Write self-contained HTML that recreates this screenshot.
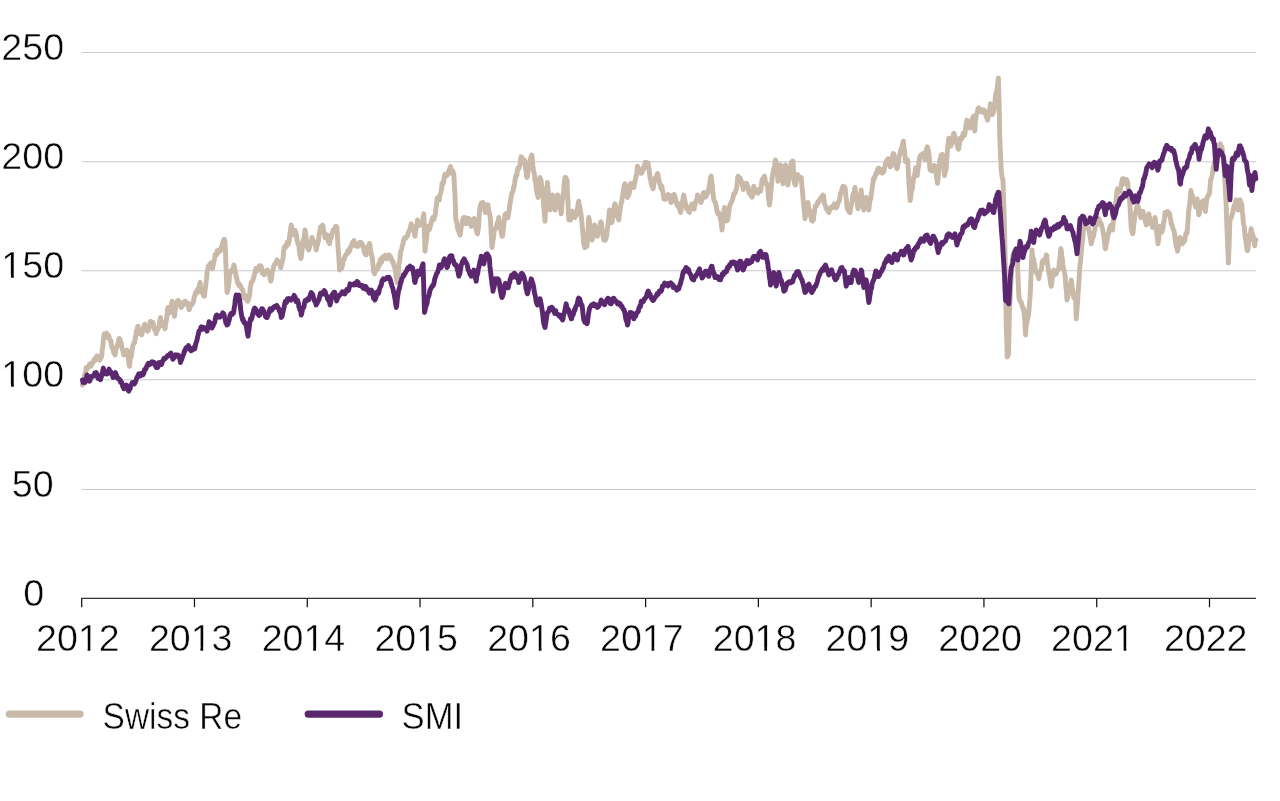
<!DOCTYPE html>
<html><head><meta charset="utf-8"><title>Swiss Re vs SMI</title>
<style>
html,body{margin:0;padding:0;background:#fff;}
body{width:1280px;height:801px;overflow:hidden;}
svg{display:block;will-change:transform;}
text{font-family:"Liberation Sans",sans-serif;font-size:37.6px;fill:#050505;stroke:#fff;stroke-width:0.5px;paint-order:fill stroke;}
rect.m{fill:#fff;}
</style></head>
<body>
<svg width="1280" height="801" viewBox="0 0 1280 801">
<rect width="1280" height="801" fill="#ffffff"/>
<g id="grid">
<line x1="81.7" y1="489.50" x2="1256.0" y2="489.50" stroke="#c9c9c9" stroke-width="1.1"/>
<line x1="81.7" y1="379.70" x2="1256.0" y2="379.70" stroke="#c9c9c9" stroke-width="1.1"/>
<line x1="81.7" y1="270.80" x2="1256.0" y2="270.80" stroke="#c9c9c9" stroke-width="1.1"/>
<line x1="81.7" y1="161.70" x2="1256.0" y2="161.70" stroke="#c9c9c9" stroke-width="1.1"/>
<line x1="81.7" y1="52.50" x2="1256.0" y2="52.50" stroke="#c9c9c9" stroke-width="1.1"/>
</g>
<g id="ylabels">
<text x="33.70" y="605.7" text-anchor="middle">0</text>
<text x="32.70" y="496.8" text-anchor="middle">50</text>
<text x="32.70" y="387.0" text-anchor="middle">100</text><rect class="m" x="2.60" y="383.74" width="8.44" height="4.01"/><rect class="m" x="13.86" y="383.74" width="8.15" height="4.01"/>
<text x="32.70" y="278.1" text-anchor="middle">150</text><rect class="m" x="2.60" y="274.84" width="8.44" height="4.01"/><rect class="m" x="13.86" y="274.84" width="8.15" height="4.01"/>
<text x="32.70" y="169.0" text-anchor="middle">200</text>
<text x="32.70" y="59.8" text-anchor="middle">250</text>
</g>
<g id="series" fill="none" stroke-linejoin="round" stroke-linecap="round" stroke-width="4.9">
<path stroke="#c8b9a9" d="M82.5 385.0 L83.0 384.1 L83.5 383.4 L84.0 380.5 L84.5 376.2 L84.9 373.7 L85.4 373.0 L85.8 370.6 L86.2 367.5 L86.7 367.7 L87.2 367.8 L87.7 368.6 L88.1 367.0 L88.6 367.0 L89.1 366.7 L89.5 364.2 L90.0 365.0 L90.5 363.9 L90.9 366.2 L91.4 364.9 L91.9 363.1 L92.3 363.5 L92.8 362.3 L93.3 362.2 L93.8 360.0 L94.2 359.4 L94.7 360.2 L95.2 360.4 L95.6 359.7 L96.1 357.0 L96.6 356.8 L97.0 356.0 L97.5 356.2 L98.0 356.7 L98.4 358.6 L98.9 358.6 L99.4 359.1 L99.8 360.3 L100.3 358.7 L100.8 358.2 L101.2 357.5 L101.8 355.5 L102.2 350.2 L102.8 346.1 L103.2 341.9 L103.8 336.2 L104.2 333.8 L104.7 335.4 L105.2 334.7 L105.6 335.9 L106.1 333.8 L106.6 333.2 L107.0 335.2 L107.5 337.5 L108.0 336.4 L108.4 335.3 L108.9 336.2 L109.4 338.4 L109.8 339.6 L110.3 341.1 L110.8 340.6 L111.2 342.5 L111.7 346.6 L112.2 348.1 L112.7 348.1 L113.1 349.2 L113.6 352.7 L114.1 352.2 L114.5 354.3 L115.0 355.0 L115.5 352.3 L115.9 349.4 L116.4 347.0 L116.9 346.9 L117.3 345.1 L117.8 344.7 L118.3 342.0 L118.8 338.8 L119.2 341.2 L119.8 338.6 L120.2 340.4 L120.8 342.6 L121.2 342.5 L121.8 346.9 L122.2 349.7 L122.8 349.5 L123.2 352.9 L123.8 355.0 L124.3 353.1 L124.8 351.7 L125.4 352.6 L125.9 351.6 L126.5 350.5 L127.0 350.0 L127.5 351.1 L128.0 357.1 L128.5 359.4 L129.0 364.1 L129.5 366.2 L130.0 361.5 L130.5 357.6 L131.0 357.4 L131.5 355.3 L132.0 351.2 L132.5 347.5 L133.0 344.9 L133.5 344.1 L134.0 342.5 L134.5 342.9 L135.0 340.0 L135.5 337.3 L136.0 333.8 L136.5 330.5 L137.0 329.4 L137.5 327.5 L138.0 326.2 L138.5 329.5 L139.1 332.7 L139.6 331.8 L140.2 334.0 L140.7 332.5 L141.2 333.8 L141.8 334.9 L142.2 332.8 L142.8 330.3 L143.2 328.7 L143.8 326.8 L144.2 325.0 L144.8 324.3 L145.3 326.5 L145.9 328.5 L146.4 328.7 L147.0 329.7 L147.5 331.2 L148.0 330.9 L148.5 329.5 L149.0 328.6 L149.5 326.2 L150.0 322.5 L150.5 321.3 L150.9 322.5 L151.4 323.7 L151.9 323.5 L152.3 322.2 L152.8 322.2 L153.3 324.5 L153.8 326.2 L154.2 327.7 L154.8 330.1 L155.2 330.3 L155.8 330.9 L156.2 333.8 L156.8 331.1 L157.3 330.0 L157.8 329.3 L158.4 328.0 L158.9 327.4 L159.4 323.9 L160.0 319.4 L160.5 317.5 L161.0 322.3 L161.5 323.4 L162.0 322.1 L162.5 323.1 L163.0 325.9 L163.5 324.8 L164.0 326.6 L164.5 326.2 L165.0 328.8 L165.5 325.4 L166.0 321.4 L166.5 320.0 L167.0 314.8 L167.5 309.1 L168.0 307.5 L168.5 307.2 L169.0 311.9 L169.5 313.0 L170.0 312.5 L170.5 309.6 L171.0 307.0 L171.5 304.4 L172.0 301.2 L172.5 306.1 L173.0 305.4 L173.5 307.6 L174.0 310.3 L174.5 316.2 L175.0 311.3 L175.5 309.0 L176.0 305.4 L176.5 302.6 L177.0 301.8 L177.5 300.7 L178.0 301.2 L178.5 300.7 L179.1 301.5 L179.6 303.7 L180.2 305.5 L180.7 305.3 L181.2 307.5 L181.8 304.5 L182.3 305.9 L182.8 304.6 L183.4 302.9 L183.9 301.9 L184.4 301.7 L185.0 303.0 L185.5 301.2 L186.0 302.1 L186.5 304.4 L187.0 304.4 L187.5 303.0 L188.0 305.8 L188.5 306.6 L189.0 309.7 L189.5 309.5 L190.0 306.2 L190.5 305.3 L190.9 304.1 L191.4 305.3 L191.9 304.7 L192.3 303.8 L192.8 303.3 L193.3 301.3 L193.8 300.0 L194.2 296.8 L194.7 296.6 L195.2 294.2 L195.6 292.5 L196.1 292.6 L196.6 293.0 L197.0 290.3 L197.5 292.5 L198.0 289.0 L198.5 287.9 L199.0 286.9 L199.5 284.7 L200.0 282.5 L200.5 286.8 L201.0 289.7 L201.5 291.9 L202.0 290.5 L202.5 290.8 L203.0 294.1 L203.5 295.9 L204.0 295.8 L204.5 296.2 L205.0 290.9 L205.5 287.1 L206.0 282.8 L206.5 279.5 L207.0 273.3 L207.5 270.0 L208.0 267.7 L208.5 265.7 L209.0 266.9 L209.5 265.5 L210.0 263.8 L210.5 263.4 L211.0 262.8 L211.5 265.4 L212.0 267.6 L212.5 268.8 L213.0 266.1 L213.4 264.8 L213.9 261.7 L214.4 259.4 L214.8 257.1 L215.3 254.3 L215.8 253.9 L216.2 253.8 L216.7 254.8 L217.2 250.7 L217.7 252.5 L218.1 252.6 L218.6 250.8 L219.1 249.7 L219.5 250.4 L220.0 251.2 L220.5 250.6 L221.0 248.7 L221.5 246.7 L222.0 246.0 L222.5 243.8 L223.0 241.8 L223.5 240.2 L224.0 239.4 L224.5 239.4 L225.0 242.5 L225.5 253.1 L226.0 266.6 L226.5 279.2 L227.0 292.5 L227.5 291.2 L228.0 289.7 L228.5 286.0 L229.0 281.7 L229.5 276.1 L230.0 272.5 L230.5 273.0 L230.9 271.0 L231.4 270.6 L231.9 270.2 L232.3 269.3 L232.8 269.6 L233.3 267.9 L233.8 265.0 L234.2 265.7 L234.8 269.7 L235.2 271.6 L235.8 273.6 L236.2 277.5 L236.7 277.2 L237.2 281.0 L237.7 283.1 L238.1 283.2 L238.6 283.2 L239.1 285.9 L239.5 285.0 L240.0 285.0 L240.5 285.9 L240.9 287.0 L241.4 287.9 L241.9 289.3 L242.3 289.6 L242.8 290.3 L243.3 293.1 L243.8 295.0 L244.3 294.9 L244.8 298.3 L245.3 295.7 L245.9 296.5 L246.4 298.2 L246.9 300.4 L247.5 301.2 L248.0 301.2 L248.5 299.7 L249.1 296.9 L249.6 295.2 L250.2 288.1 L250.7 286.3 L251.2 282.5 L251.8 282.2 L252.2 281.6 L252.8 281.0 L253.2 278.6 L253.8 277.5 L254.2 275.2 L254.8 273.8 L255.2 271.8 L255.8 268.6 L256.2 270.0 L256.7 271.3 L257.2 268.1 L257.7 269.7 L258.1 267.5 L258.6 267.3 L259.1 266.5 L259.5 265.7 L260.0 266.2 L260.5 267.0 L260.9 265.9 L261.4 267.2 L261.9 269.0 L262.3 273.1 L262.8 273.7 L263.3 273.1 L263.8 273.8 L264.2 274.7 L264.7 273.1 L265.2 271.8 L265.6 272.6 L266.1 272.4 L266.6 272.6 L267.0 271.5 L267.5 270.0 L268.0 271.2 L268.6 272.6 L269.1 273.8 L269.7 276.1 L270.2 278.7 L270.8 281.2 L271.2 279.7 L271.8 275.9 L272.2 271.8 L272.8 270.7 L273.2 268.4 L273.8 266.2 L274.3 264.7 L274.8 264.6 L275.4 263.9 L275.9 262.8 L276.5 262.1 L277.0 260.0 L277.5 260.7 L278.1 263.2 L278.6 262.7 L279.1 263.5 L279.7 262.3 L280.2 264.0 L280.7 267.6 L281.2 266.2 L281.7 263.0 L282.2 262.4 L282.7 260.1 L283.1 257.5 L283.6 251.3 L284.1 248.2 L284.5 246.8 L285.0 246.2 L285.5 247.6 L285.9 247.0 L286.4 246.2 L286.9 243.5 L287.3 242.1 L287.8 244.2 L288.3 244.3 L288.8 242.5 L289.2 240.8 L289.8 234.3 L290.2 232.6 L290.8 228.3 L291.2 225.0 L291.8 227.5 L292.2 229.3 L292.8 232.7 L293.2 234.1 L293.8 235.0 L294.2 234.0 L294.7 231.7 L295.2 230.6 L295.6 232.1 L296.1 233.5 L296.6 235.7 L297.0 240.1 L297.5 241.2 L298.0 244.1 L298.4 244.0 L298.9 245.7 L299.4 251.2 L299.8 254.1 L300.3 256.0 L300.8 258.5 L301.2 257.5 L301.7 253.4 L302.2 248.5 L302.7 242.4 L303.1 240.8 L303.6 239.6 L304.1 236.6 L304.5 234.4 L305.0 230.0 L305.5 232.6 L305.9 235.6 L306.4 240.0 L306.9 244.3 L307.3 246.9 L307.8 248.6 L308.3 249.1 L308.8 250.0 L309.3 248.0 L309.8 245.8 L310.4 242.8 L310.9 242.5 L311.5 240.5 L312.0 237.5 L312.5 239.0 L313.1 241.0 L313.6 241.3 L314.1 241.5 L314.7 243.9 L315.2 244.8 L315.7 246.2 L316.2 250.0 L316.7 246.7 L317.2 245.8 L317.7 242.9 L318.1 242.3 L318.6 240.1 L319.1 234.3 L319.5 233.3 L320.0 230.0 L320.5 227.0 L321.0 227.4 L321.5 227.8 L322.0 226.0 L322.5 225.2 L323.0 226.2 L323.5 229.5 L324.1 232.4 L324.6 235.3 L325.2 238.1 L325.7 235.2 L326.2 235.0 L326.8 237.3 L327.3 235.0 L327.9 238.2 L328.4 241.6 L329.0 242.4 L329.5 243.8 L330.0 240.7 L330.6 239.2 L331.1 237.6 L331.6 236.1 L332.2 232.9 L332.7 232.1 L333.2 230.0 L333.8 230.0 L334.3 230.8 L334.8 228.7 L335.4 226.6 L335.9 227.0 L336.5 226.5 L337.0 227.5 L337.5 237.8 L338.0 246.8 L338.5 253.0 L339.0 260.1 L339.5 270.0 L340.0 267.6 L340.6 268.7 L341.1 267.9 L341.6 268.1 L342.2 266.0 L342.7 265.2 L343.2 259.8 L343.8 258.8 L344.2 259.3 L344.7 257.5 L345.2 255.8 L345.6 255.4 L346.1 255.1 L346.6 253.5 L347.0 254.2 L347.5 251.2 L348.0 253.0 L348.5 250.7 L349.0 249.3 L349.5 251.4 L350.0 249.7 L350.5 247.0 L351.0 247.1 L351.5 245.5 L352.0 243.7 L352.5 242.5 L353.0 242.1 L353.5 241.3 L354.0 240.5 L354.5 243.9 L355.0 243.6 L355.5 245.9 L356.0 244.5 L356.5 246.1 L357.0 244.9 L357.5 245.0 L358.0 246.4 L358.4 245.9 L358.9 243.1 L359.4 242.5 L359.8 242.6 L360.3 243.9 L360.8 242.6 L361.2 242.5 L361.8 244.7 L362.2 244.1 L362.8 246.1 L363.2 246.8 L363.8 249.6 L364.2 251.5 L364.8 253.4 L365.2 251.6 L365.8 253.5 L366.2 255.0 L366.7 252.3 L367.2 250.2 L367.7 247.0 L368.1 246.0 L368.6 245.9 L369.1 245.6 L369.5 243.5 L370.0 245.0 L370.5 250.0 L371.0 252.0 L371.5 255.4 L372.0 256.4 L372.5 259.8 L373.0 264.5 L373.5 270.1 L374.0 273.0 L374.5 273.8 L375.0 271.4 L375.5 271.5 L376.0 269.6 L376.5 269.5 L377.0 268.8 L377.5 269.2 L378.0 268.0 L378.5 264.9 L379.0 263.5 L379.5 265.4 L380.0 262.5 L380.5 259.2 L380.9 262.2 L381.4 262.4 L381.9 261.1 L382.3 259.7 L382.8 256.9 L383.3 257.6 L383.8 257.5 L384.2 256.5 L384.8 255.9 L385.2 255.2 L385.8 256.9 L386.2 256.6 L386.8 258.9 L387.2 257.6 L387.8 256.6 L388.2 255.8 L388.8 255.0 L389.2 254.9 L389.7 256.5 L390.2 258.5 L390.6 256.7 L391.1 258.8 L391.6 259.0 L392.0 261.5 L392.5 261.2 L393.0 261.3 L393.5 263.9 L394.0 266.3 L394.5 267.0 L395.0 268.4 L395.5 270.0 L396.0 276.1 L396.5 278.9 L397.0 282.5 L397.5 278.7 L398.0 275.2 L398.5 270.4 L399.0 263.7 L399.5 261.9 L400.0 257.5 L400.5 252.2 L401.0 251.1 L401.5 249.3 L402.0 247.3 L402.5 245.0 L403.0 244.2 L403.5 241.0 L404.0 239.3 L404.5 238.2 L405.0 237.5 L405.5 238.6 L405.9 237.3 L406.4 236.7 L406.9 236.5 L407.3 236.5 L407.8 235.4 L408.3 232.9 L408.8 231.2 L409.2 230.7 L409.8 229.6 L410.2 229.5 L410.8 225.5 L411.2 223.8 L411.7 227.3 L412.2 226.4 L412.7 226.8 L413.1 226.3 L413.6 230.4 L414.1 232.6 L414.5 233.8 L415.0 236.2 L415.5 231.8 L416.0 229.0 L416.5 226.6 L417.0 223.7 L417.5 220.0 L418.0 221.6 L418.4 223.3 L418.9 225.5 L419.4 223.0 L419.8 223.9 L420.3 224.4 L420.8 225.0 L421.2 225.0 L421.8 222.7 L422.2 221.4 L422.8 219.6 L423.2 217.6 L423.8 213.8 L424.4 232.1 L425.0 251.2 L425.5 246.1 L426.0 243.0 L426.5 239.3 L427.0 234.1 L427.5 228.8 L428.0 227.4 L428.4 225.9 L428.9 228.9 L429.4 229.7 L429.8 227.9 L430.3 226.5 L430.8 224.3 L431.2 222.5 L431.7 220.8 L432.2 219.6 L432.7 217.5 L433.1 217.6 L433.6 217.5 L434.1 219.5 L434.5 216.3 L435.0 216.2 L435.5 213.2 L435.9 208.3 L436.4 205.4 L436.9 200.3 L437.3 197.9 L437.8 199.8 L438.3 199.5 L438.8 200.0 L439.2 200.1 L439.7 195.8 L440.2 194.6 L440.6 193.0 L441.1 191.9 L441.6 188.4 L442.0 183.5 L442.5 185.0 L443.0 184.2 L443.5 182.1 L444.0 178.6 L444.5 176.2 L445.0 174.3 L445.5 175.8 L446.0 176.1 L446.5 175.8 L447.0 175.1 L447.5 175.0 L448.0 173.5 L448.5 171.1 L449.0 170.8 L449.5 169.4 L450.0 167.5 L450.5 166.7 L450.9 169.2 L451.4 171.8 L451.9 173.4 L452.3 171.0 L452.8 171.0 L453.3 173.1 L453.8 173.8 L454.4 185.7 L455.0 195.0 L455.4 207.7 L455.8 220.0 L456.3 220.1 L456.9 223.4 L457.4 227.0 L458.0 230.0 L458.5 229.3 L459.0 232.6 L459.5 233.1 L460.0 235.2 L460.5 233.8 L461.0 228.1 L461.6 225.1 L462.1 223.4 L462.7 220.0 L463.2 218.5 L463.8 217.5 L464.2 217.5 L464.8 218.2 L465.2 217.7 L465.8 220.2 L466.2 223.8 L466.8 223.6 L467.2 221.8 L467.8 219.7 L468.2 218.3 L468.8 218.8 L469.2 218.8 L469.8 222.4 L470.2 221.7 L470.8 222.9 L471.2 226.2 L471.8 226.0 L472.2 222.2 L472.8 220.3 L473.2 221.3 L473.8 220.0 L474.2 218.4 L474.7 220.8 L475.2 226.6 L475.6 226.7 L476.1 230.1 L476.6 228.7 L477.0 233.2 L477.5 233.8 L478.0 230.5 L478.5 227.4 L479.0 218.4 L479.5 211.5 L480.0 207.5 L480.5 204.9 L480.9 204.7 L481.4 203.0 L481.9 205.0 L482.3 204.0 L482.8 202.4 L483.3 203.2 L483.8 205.0 L484.2 206.6 L484.6 208.8 L485.1 211.5 L485.5 212.5 L486.0 209.6 L486.5 209.4 L487.0 207.8 L487.5 204.6 L488.0 205.0 L488.5 208.6 L489.0 211.8 L489.5 213.5 L490.0 216.1 L490.5 220.0 L491.0 230.6 L491.5 239.1 L492.0 247.5 L492.5 244.1 L493.0 240.5 L493.5 238.0 L494.0 232.3 L494.5 229.8 L495.0 228.8 L495.5 229.0 L495.9 227.9 L496.4 228.0 L496.9 224.6 L497.3 222.6 L497.8 224.6 L498.3 220.7 L498.8 217.5 L499.2 221.7 L499.7 223.5 L500.2 225.4 L500.6 226.5 L501.1 232.0 L501.6 233.9 L502.0 236.3 L502.5 236.2 L503.0 232.3 L503.5 227.1 L504.0 222.6 L504.5 220.0 L505.0 215.0 L505.5 214.1 L506.0 213.5 L506.5 214.7 L507.0 217.8 L507.5 216.9 L508.0 217.5 L508.5 213.5 L509.1 210.9 L509.6 205.7 L510.2 202.5 L510.7 200.0 L511.2 196.2 L511.7 193.8 L512.2 192.6 L512.7 191.2 L513.1 191.0 L513.6 187.0 L514.1 186.7 L514.5 184.1 L515.0 180.0 L515.5 178.3 L515.9 175.6 L516.4 174.5 L516.9 175.4 L517.3 171.0 L517.8 168.3 L518.3 168.8 L518.8 167.5 L519.2 167.9 L519.7 165.0 L520.2 164.0 L520.6 159.0 L521.1 156.8 L521.6 157.1 L522.0 158.2 L522.5 160.0 L523.0 161.3 L523.5 161.2 L524.0 161.9 L524.5 160.2 L525.0 163.8 L525.5 168.8 L526.0 170.5 L526.5 176.5 L527.0 177.5 L527.5 176.1 L528.0 172.5 L528.5 167.4 L529.0 165.8 L529.5 161.6 L530.0 161.2 L530.4 158.7 L530.9 157.8 L531.3 155.9 L531.8 155.0 L532.4 160.1 L533.0 167.5 L533.5 170.6 L534.0 172.8 L534.5 174.7 L535.0 180.0 L535.5 182.4 L536.0 185.2 L536.5 189.9 L537.0 193.4 L537.5 194.2 L538.0 197.5 L538.5 192.8 L539.0 187.2 L539.5 183.4 L540.0 177.5 L540.5 179.5 L541.0 180.1 L541.5 185.0 L542.0 186.9 L542.5 190.0 L543.0 196.2 L543.5 203.0 L544.0 208.4 L544.5 215.4 L545.0 221.2 L545.5 210.3 L546.0 203.8 L546.5 194.7 L547.0 189.2 L547.5 182.5 L548.0 189.5 L548.5 193.1 L549.0 197.3 L549.5 203.0 L550.0 210.0 L550.5 204.8 L551.0 205.0 L551.5 202.7 L552.0 199.6 L552.5 195.0 L553.0 197.5 L553.5 200.3 L554.0 202.6 L554.5 205.6 L555.0 210.0 L555.5 204.8 L556.0 202.8 L556.5 202.2 L557.0 197.7 L557.5 195.0 L558.0 196.6 L558.4 197.0 L558.9 200.7 L559.4 202.4 L559.8 206.4 L560.3 209.3 L560.8 211.1 L561.2 213.8 L561.7 208.4 L562.2 201.1 L562.7 198.6 L563.1 194.5 L563.6 191.6 L564.1 184.0 L564.5 180.9 L565.0 177.5 L565.5 179.2 L566.0 177.5 L566.5 179.4 L567.0 180.0 L567.4 190.2 L567.9 200.7 L568.3 209.7 L568.8 220.0 L569.2 218.5 L569.7 219.3 L570.2 217.7 L570.6 219.9 L571.1 216.5 L571.6 214.8 L572.0 215.3 L572.5 211.2 L573.0 212.9 L573.5 214.3 L574.0 214.0 L574.5 214.3 L575.0 217.5 L575.5 215.5 L575.9 214.6 L576.4 214.0 L576.9 214.7 L577.3 210.1 L577.8 206.4 L578.3 203.0 L578.8 201.2 L579.2 204.1 L579.8 207.4 L580.2 208.9 L580.8 213.2 L581.2 215.0 L581.8 221.5 L582.2 225.6 L582.8 232.3 L583.2 236.5 L583.8 243.8 L584.3 244.9 L584.8 247.7 L585.4 246.9 L585.9 244.8 L586.5 245.9 L587.0 246.2 L587.4 239.4 L587.9 231.3 L588.3 226.6 L588.8 217.5 L589.3 220.0 L589.8 225.0 L590.4 227.8 L590.9 231.8 L591.5 235.8 L592.0 240.0 L592.5 238.8 L593.0 236.9 L593.5 233.3 L594.0 228.4 L594.5 225.0 L595.0 225.5 L595.5 227.7 L596.0 231.2 L596.5 234.0 L597.0 234.4 L597.5 236.2 L598.0 233.8 L598.5 230.6 L599.0 230.2 L599.5 228.8 L600.0 226.9 L600.5 222.5 L601.0 221.9 L601.6 224.4 L602.1 229.9 L602.7 233.2 L603.2 236.8 L603.8 240.0 L604.2 239.7 L604.8 238.6 L605.2 240.3 L605.8 239.0 L606.2 237.5 L606.8 234.2 L607.3 229.8 L607.9 225.4 L608.4 220.7 L609.0 215.1 L609.5 210.0 L610.0 213.5 L610.5 216.2 L611.0 215.8 L611.5 220.7 L612.0 222.5 L612.5 218.9 L613.0 215.7 L613.5 211.9 L614.0 207.8 L614.5 205.0 L615.0 203.8 L615.5 205.7 L615.9 209.0 L616.4 209.3 L616.9 213.0 L617.3 213.6 L617.8 217.2 L618.3 218.5 L618.8 220.0 L619.2 215.8 L619.8 211.5 L620.2 208.9 L620.8 205.1 L621.2 202.5 L621.7 201.9 L622.2 198.1 L622.7 195.1 L623.1 192.5 L623.6 189.1 L624.1 186.6 L624.5 184.5 L625.0 183.8 L625.5 185.6 L626.0 188.3 L626.5 191.1 L627.0 196.1 L627.5 197.5 L628.0 196.0 L628.5 195.5 L629.0 194.7 L629.5 191.8 L630.0 188.5 L630.5 183.8 L631.0 183.9 L631.6 184.5 L632.1 183.2 L632.7 185.6 L633.2 186.9 L633.8 187.5 L634.2 184.4 L634.7 182.9 L635.2 180.2 L635.6 178.7 L636.1 175.7 L636.6 175.1 L637.0 170.2 L637.5 166.2 L638.0 168.7 L638.4 169.9 L638.9 172.1 L639.4 170.4 L639.8 171.1 L640.3 172.2 L640.8 173.2 L641.2 172.5 L641.7 173.0 L642.2 171.9 L642.7 168.0 L643.1 170.1 L643.6 168.5 L644.1 168.7 L644.5 165.8 L645.0 162.5 L645.5 163.4 L646.0 164.3 L646.5 162.6 L647.0 162.5 L647.5 163.3 L648.0 163.0 L648.5 167.6 L649.0 168.7 L649.5 172.9 L650.0 177.5 L650.5 179.2 L651.0 182.7 L651.5 184.4 L652.0 185.9 L652.5 187.0 L653.0 188.8 L653.5 187.0 L654.0 183.2 L654.5 180.9 L655.0 178.0 L655.5 180.2 L656.0 179.9 L656.5 176.3 L657.0 175.0 L657.5 173.4 L658.0 174.6 L658.5 178.7 L659.0 180.0 L659.5 183.2 L660.0 183.8 L660.5 186.0 L660.9 188.1 L661.4 186.1 L661.9 186.3 L662.3 190.9 L662.8 191.1 L663.3 194.5 L663.8 198.8 L664.2 198.1 L664.7 199.2 L665.2 199.3 L665.6 197.8 L666.1 198.2 L666.6 198.4 L667.0 196.2 L667.5 195.0 L668.0 194.5 L668.4 195.6 L668.9 197.2 L669.4 197.3 L669.8 195.9 L670.3 198.6 L670.8 202.3 L671.2 202.5 L671.7 201.9 L672.2 200.1 L672.7 195.1 L673.1 197.8 L673.6 197.5 L674.1 194.5 L674.5 195.8 L675.0 196.2 L675.5 199.1 L675.9 200.8 L676.4 202.2 L676.9 205.1 L677.3 205.2 L677.8 206.2 L678.3 205.0 L678.8 203.8 L679.2 206.6 L679.6 209.4 L680.1 209.4 L680.5 212.5 L681.0 211.0 L681.6 205.8 L682.1 202.1 L682.7 201.7 L683.2 197.2 L683.8 195.0 L684.2 198.0 L684.7 199.9 L685.2 201.9 L685.6 204.5 L686.1 206.6 L686.6 208.6 L687.0 207.9 L687.5 210.0 L688.0 207.7 L688.4 209.1 L688.9 211.7 L689.4 212.4 L689.8 208.0 L690.3 208.6 L690.8 207.8 L691.2 205.0 L691.8 204.1 L692.2 206.8 L692.8 206.7 L693.2 207.6 L693.8 208.8 L694.2 209.1 L694.7 203.8 L695.2 204.6 L695.6 202.2 L696.1 200.5 L696.6 200.3 L697.0 199.8 L697.5 195.0 L698.0 197.9 L698.5 199.5 L699.0 199.7 L699.5 200.7 L700.0 200.0 L700.5 200.7 L700.9 202.5 L701.4 201.0 L701.9 199.7 L702.3 196.8 L702.8 195.2 L703.3 193.0 L703.8 192.5 L704.2 194.9 L704.7 196.2 L705.2 197.3 L705.6 195.4 L706.1 196.3 L706.6 194.8 L707.0 193.0 L707.5 193.8 L708.0 190.6 L708.4 191.6 L708.9 188.8 L709.4 185.4 L709.8 183.5 L710.3 178.7 L710.8 176.8 L711.2 176.2 L711.8 180.9 L712.2 184.9 L712.8 191.5 L713.2 194.6 L713.8 200.0 L714.2 200.4 L714.8 202.0 L715.2 202.0 L715.8 204.2 L716.2 206.2 L716.8 210.6 L717.3 211.6 L717.9 213.9 L718.4 212.7 L719.0 213.0 L719.5 215.0 L720.0 216.2 L720.5 219.5 L721.0 221.4 L721.5 225.6 L722.0 230.0 L722.5 224.7 L723.0 221.1 L723.5 215.7 L724.0 211.2 L724.5 207.5 L725.0 210.4 L725.5 213.4 L726.0 218.1 L726.5 219.1 L727.0 220.9 L727.5 220.0 L728.0 218.7 L728.5 214.2 L729.0 210.6 L729.5 207.0 L730.0 205.0 L730.5 203.9 L730.9 202.7 L731.4 202.2 L731.9 200.9 L732.3 200.2 L732.8 198.0 L733.3 196.4 L733.8 193.8 L734.2 193.5 L734.7 193.4 L735.2 192.8 L735.6 191.7 L736.1 189.2 L736.6 188.4 L737.0 184.4 L737.5 178.8 L738.0 176.2 L738.4 177.9 L738.9 177.6 L739.4 179.4 L739.8 177.6 L740.3 178.5 L740.8 180.4 L741.2 181.2 L741.8 182.7 L742.2 185.5 L742.8 185.7 L743.2 189.6 L743.8 188.8 L744.2 186.6 L744.7 185.7 L745.2 183.5 L745.6 185.3 L746.1 185.4 L746.6 183.3 L747.0 185.0 L747.5 186.2 L748.0 186.7 L748.5 190.2 L749.0 193.1 L749.5 193.3 L750.0 193.5 L750.5 195.0 L751.0 195.3 L751.6 196.3 L752.1 197.2 L752.7 194.9 L753.2 190.5 L753.8 186.2 L754.3 188.6 L754.8 190.1 L755.4 191.9 L755.9 191.8 L756.5 191.8 L757.0 192.5 L757.5 193.1 L758.0 193.2 L758.5 191.5 L759.0 189.3 L759.5 189.4 L760.0 189.1 L760.5 191.2 L761.0 188.5 L761.5 184.2 L762.0 180.0 L762.5 178.9 L763.0 180.5 L763.5 178.9 L764.0 176.7 L764.5 176.2 L765.0 179.0 L765.5 181.1 L766.0 182.8 L766.5 184.7 L767.0 184.5 L767.5 185.0 L768.0 190.9 L768.5 199.0 L769.0 200.7 L769.5 205.0 L770.0 200.8 L770.5 195.6 L771.0 190.6 L771.5 185.3 L772.0 179.0 L772.5 175.0 L773.0 174.1 L773.5 170.6 L774.0 168.3 L774.5 167.1 L775.0 163.1 L775.5 160.0 L776.0 161.0 L776.5 166.5 L777.0 172.3 L777.5 175.0 L778.0 181.2 L778.5 179.3 L779.0 173.0 L779.5 170.5 L780.0 167.5 L780.5 165.0 L781.0 168.7 L781.5 170.6 L782.0 175.0 L782.5 178.1 L783.0 183.8 L783.5 180.5 L784.0 173.3 L784.5 173.3 L785.0 171.1 L785.5 165.0 L786.0 168.0 L786.5 170.7 L787.0 176.2 L787.5 179.2 L788.0 185.0 L788.5 180.7 L789.1 178.8 L789.6 174.3 L790.2 168.9 L790.7 166.4 L791.2 162.5 L791.7 164.0 L792.1 162.1 L792.6 161.1 L793.0 161.2 L793.5 171.3 L794.0 178.9 L794.5 183.1 L795.0 185.0 L795.5 185.0 L796.0 182.6 L796.5 177.5 L797.0 176.2 L797.5 174.5 L798.0 175.0 L798.5 176.3 L799.1 176.6 L799.6 178.9 L800.2 177.8 L800.7 178.1 L801.2 177.5 L801.7 183.4 L802.1 188.1 L802.6 192.5 L803.0 197.5 L803.5 203.1 L804.0 208.1 L804.5 213.0 L805.0 218.8 L805.5 216.3 L806.0 213.4 L806.5 213.1 L807.0 209.9 L807.5 206.9 L808.0 202.5 L808.5 206.8 L809.0 211.7 L809.5 209.6 L810.0 213.5 L810.5 214.3 L811.0 217.5 L811.5 220.2 L812.0 220.8 L812.5 221.2 L813.0 218.3 L813.4 220.0 L813.9 215.4 L814.4 212.2 L814.8 209.2 L815.3 206.2 L815.8 205.5 L816.2 206.2 L816.7 204.8 L817.2 204.0 L817.7 202.1 L818.1 203.2 L818.6 201.7 L819.1 201.3 L819.5 199.6 L820.0 200.0 L820.5 199.4 L821.0 197.5 L821.5 200.0 L822.0 196.4 L822.5 196.1 L823.0 195.0 L823.5 195.7 L824.1 201.2 L824.6 203.9 L825.2 205.3 L825.7 206.1 L826.2 208.8 L826.8 209.2 L827.2 209.3 L827.8 208.7 L828.2 211.7 L828.8 212.5 L829.2 211.8 L829.7 209.5 L830.2 207.9 L830.6 208.7 L831.1 207.1 L831.6 207.8 L832.0 207.2 L832.5 207.5 L833.0 207.3 L833.4 205.9 L833.9 204.7 L834.4 203.8 L834.8 204.1 L835.3 207.2 L835.8 207.9 L836.2 205.0 L836.8 207.3 L837.3 205.8 L837.9 203.4 L838.4 202.3 L839.0 200.9 L839.5 200.0 L840.0 196.7 L840.5 193.5 L841.0 192.3 L841.5 191.7 L842.0 188.7 L842.5 188.0 L843.0 186.2 L843.5 187.5 L844.0 187.2 L844.5 186.9 L845.0 187.5 L845.5 191.4 L846.0 197.0 L846.5 200.6 L847.0 207.5 L847.5 208.6 L848.0 210.3 L848.5 210.6 L849.0 210.1 L849.5 212.4 L850.0 212.5 L850.5 209.4 L851.0 206.7 L851.5 204.6 L852.0 201.9 L852.5 197.5 L853.0 194.3 L853.5 194.4 L854.0 192.4 L854.5 190.4 L855.0 187.5 L855.5 192.4 L856.0 196.6 L856.5 199.2 L857.0 199.9 L857.5 206.2 L858.0 208.8 L858.5 205.0 L859.1 202.3 L859.6 198.5 L860.2 196.6 L860.7 193.8 L861.2 190.0 L861.8 195.8 L862.2 199.2 L862.8 200.9 L863.2 206.2 L863.8 210.0 L864.2 207.2 L864.8 203.5 L865.2 201.3 L865.8 199.3 L866.2 197.5 L866.8 198.3 L867.2 202.0 L867.8 205.3 L868.2 207.5 L868.8 210.0 L869.2 206.5 L869.8 201.4 L870.2 199.5 L870.8 198.9 L871.2 195.0 L871.7 191.6 L872.2 188.1 L872.7 183.7 L873.1 182.3 L873.6 178.2 L874.1 178.1 L874.5 178.4 L875.0 176.2 L875.5 175.4 L876.0 173.2 L876.5 173.9 L877.0 173.2 L877.5 170.0 L878.0 168.4 L878.4 169.0 L878.9 168.1 L879.4 168.7 L879.8 169.0 L880.3 171.2 L880.8 170.9 L881.2 172.5 L881.7 172.6 L882.2 173.1 L882.7 171.0 L883.1 169.8 L883.6 172.2 L884.1 170.3 L884.5 167.7 L885.0 166.2 L885.5 164.0 L885.9 162.2 L886.4 161.2 L886.9 160.3 L887.3 161.5 L887.8 159.4 L888.3 158.7 L888.8 158.8 L889.2 159.5 L889.8 162.0 L890.2 166.8 L890.8 166.4 L891.2 166.2 L891.8 162.7 L892.2 159.2 L892.8 155.6 L893.2 153.6 L893.8 153.8 L894.3 159.8 L894.8 161.8 L895.4 160.6 L895.9 165.2 L896.5 167.3 L897.0 168.8 L897.5 167.6 L898.0 164.4 L898.5 161.1 L899.0 156.8 L899.5 155.3 L900.0 153.8 L900.5 151.1 L901.0 149.0 L901.5 149.7 L902.0 147.3 L902.5 145.4 L902.9 142.9 L903.4 141.2 L903.9 146.7 L904.5 150.9 L905.0 156.5 L905.5 161.6 L905.9 159.3 L906.4 160.2 L906.9 161.1 L907.3 159.4 L907.8 161.6 L908.4 173.6 L909.1 185.0 L909.6 192.5 L910.2 200.6 L910.7 197.7 L911.2 192.8 L911.8 189.2 L912.3 189.5 L912.8 183.8 L913.3 180.3 L913.8 177.2 L914.2 176.4 L914.7 174.3 L915.2 171.4 L915.6 167.8 L916.1 171.8 L916.7 173.8 L917.2 175.6 L917.7 171.8 L918.1 168.9 L918.6 164.9 L919.1 161.2 L919.5 158.4 L920.1 156.5 L920.6 155.4 L921.1 154.8 L921.6 155.1 L922.1 155.3 L922.7 153.8 L923.1 153.5 L923.6 154.2 L924.1 154.8 L924.5 157.6 L925.0 160.0 L925.5 158.0 L925.9 154.1 L926.4 149.8 L926.9 147.9 L927.3 146.7 L927.9 149.3 L928.4 150.9 L928.9 153.8 L929.3 158.3 L929.7 167.8 L930.2 170.0 L930.6 170.1 L931.1 170.3 L931.6 169.7 L932.0 170.9 L932.6 169.1 L933.1 167.8 L933.6 168.1 L934.1 165.5 L934.6 165.9 L935.2 166.2 L935.6 169.4 L936.1 171.8 L936.6 177.7 L937.0 180.0 L937.5 183.4 L938.0 179.4 L938.4 174.0 L938.9 170.3 L939.4 164.9 L939.8 160.0 L940.3 158.3 L940.8 157.6 L941.2 154.9 L941.7 154.6 L942.2 154.5 L942.7 158.4 L943.1 161.5 L943.6 164.8 L944.1 169.0 L944.5 175.6 L945.1 171.8 L945.6 170.8 L946.1 169.4 L946.6 160.6 L947.2 153.7 L947.7 146.9 L948.2 143.2 L948.8 138.1 L949.3 141.1 L949.8 141.4 L950.3 146.2 L950.8 145.9 L951.3 144.4 L951.8 141.2 L952.3 138.2 L952.9 137.0 L953.4 133.9 L953.9 133.4 L954.4 135.0 L954.8 135.9 L955.3 137.7 L955.8 140.3 L956.2 142.8 L956.7 142.4 L957.2 144.8 L957.7 147.6 L958.1 148.3 L958.6 149.1 L959.1 146.3 L959.6 142.6 L960.2 138.1 L960.6 138.6 L961.1 138.3 L961.6 139.2 L962.0 136.8 L962.5 136.6 L963.0 133.7 L963.4 133.1 L963.9 136.1 L964.4 134.9 L964.8 135.0 L965.4 129.6 L965.9 125.5 L966.4 122.5 L966.9 120.2 L967.4 120.4 L967.9 121.4 L968.5 123.3 L969.0 125.6 L969.5 125.6 L970.0 128.0 L970.5 125.9 L970.9 126.6 L971.4 124.6 L971.9 124.1 L972.4 118.8 L972.9 117.6 L973.4 116.2 L974.1 124.2 L974.7 131.1 L975.2 124.8 L975.6 118.8 L976.1 115.9 L976.6 113.9 L977.1 113.4 L977.6 110.9 L978.1 108.3 L978.6 107.9 L979.2 110.2 L979.7 110.0 L980.2 110.1 L980.7 110.2 L981.2 111.1 L981.8 111.8 L982.3 109.7 L982.8 112.3 L983.3 112.1 L983.8 111.9 L984.2 110.2 L984.7 111.0 L985.2 111.6 L985.6 112.6 L986.1 116.4 L986.6 117.4 L987.0 116.6 L987.5 120.2 L988.0 117.4 L988.4 115.4 L988.9 112.8 L989.4 111.6 L990.0 107.2 L990.6 103.8 L991.1 106.8 L991.7 111.7 L992.2 114.7 L992.7 113.5 L993.2 112.3 L993.8 111.6 L994.3 108.3 L994.8 104.1 L995.3 97.5 L995.8 93.9 L996.4 92.3 L996.9 89.7 L997.4 86.0 L997.9 82.1 L998.4 78.0 L998.8 92.7 L999.2 106.9 L999.7 135.0 L1000.2 147.1 L1000.7 158.9 L1001.2 170.0 L1001.7 173.9 L1002.1 176.7 L1002.6 179.1 L1003.0 180.0 L1003.5 195.7 L1004.0 210.3 L1004.5 225.0 L1005.0 252.0 L1005.5 282.5 L1005.9 302.4 L1006.2 325.0 L1006.8 340.7 L1007.2 357.0 L1007.9 355.3 L1008.5 354.5 L1009.0 331.8 L1009.5 310.0 L1009.9 302.7 L1010.4 294.1 L1010.8 284.7 L1011.2 275.0 L1011.7 269.7 L1012.1 265.1 L1012.6 258.1 L1013.0 255.0 L1013.5 254.3 L1014.0 255.0 L1014.5 250.4 L1015.0 250.0 L1015.5 250.9 L1016.0 254.7 L1016.5 257.9 L1017.0 259.9 L1017.5 262.5 L1018.1 279.2 L1018.8 295.0 L1019.2 299.2 L1019.8 299.6 L1020.2 301.2 L1020.8 301.7 L1021.2 302.5 L1021.8 303.6 L1022.2 306.7 L1022.8 307.0 L1023.2 309.9 L1023.8 308.8 L1024.2 313.9 L1024.6 318.9 L1025.1 326.4 L1025.5 335.0 L1026.0 327.5 L1026.5 323.7 L1027.0 322.5 L1027.5 318.7 L1028.0 317.5 L1028.5 314.6 L1029.0 310.3 L1029.5 303.3 L1030.0 297.5 L1030.5 288.4 L1031.0 275.5 L1031.5 262.2 L1032.0 250.0 L1032.4 254.8 L1032.9 257.8 L1033.3 258.2 L1033.8 260.0 L1034.2 262.2 L1034.8 265.1 L1035.2 268.7 L1035.8 270.6 L1036.2 272.5 L1036.8 273.0 L1037.2 274.2 L1037.8 274.1 L1038.2 276.0 L1038.8 278.8 L1039.2 276.5 L1039.8 272.7 L1040.2 271.2 L1040.8 270.4 L1041.2 270.0 L1041.8 266.4 L1042.2 262.3 L1042.8 260.4 L1043.2 261.0 L1043.8 262.5 L1044.2 262.1 L1044.8 260.7 L1045.2 259.5 L1045.8 257.6 L1046.2 255.0 L1046.8 255.7 L1047.2 263.0 L1047.8 264.9 L1048.2 268.1 L1048.8 271.2 L1049.2 274.7 L1049.8 276.6 L1050.2 280.1 L1050.8 285.3 L1051.2 286.2 L1051.8 283.0 L1052.2 279.0 L1052.8 276.1 L1053.2 271.8 L1053.8 270.0 L1054.2 270.9 L1054.8 272.6 L1055.2 274.5 L1055.8 273.7 L1056.2 273.8 L1056.8 271.5 L1057.2 270.7 L1057.8 269.9 L1058.2 269.8 L1058.8 268.8 L1059.2 262.7 L1059.8 259.9 L1060.2 255.3 L1060.8 248.8 L1061.3 250.9 L1061.9 256.9 L1062.4 259.0 L1063.0 265.0 L1063.5 268.5 L1064.0 270.5 L1064.5 273.0 L1065.0 275.0 L1065.5 280.9 L1066.0 288.2 L1066.5 292.1 L1067.0 300.0 L1067.5 298.0 L1068.0 295.3 L1068.5 294.0 L1069.0 290.7 L1069.5 285.0 L1069.9 285.9 L1070.4 284.6 L1070.8 282.2 L1071.2 280.0 L1071.8 283.4 L1072.2 287.8 L1072.8 289.8 L1073.2 294.0 L1073.8 297.5 L1074.2 297.9 L1074.6 296.7 L1075.1 297.1 L1075.5 295.0 L1075.9 307.4 L1076.2 318.8 L1076.7 313.7 L1077.1 307.6 L1077.6 302.5 L1078.0 295.0 L1078.5 287.3 L1079.0 280.5 L1079.5 272.2 L1080.0 265.0 L1080.5 262.1 L1081.0 255.5 L1081.5 249.8 L1082.0 245.0 L1082.4 240.9 L1082.9 237.5 L1083.3 230.0 L1083.8 222.5 L1084.2 224.1 L1084.8 224.3 L1085.2 222.3 L1085.8 224.5 L1086.2 226.2 L1086.8 226.9 L1087.2 227.9 L1087.8 228.4 L1088.2 227.6 L1088.8 228.8 L1089.2 232.0 L1089.8 235.5 L1090.2 237.1 L1090.8 240.5 L1091.2 243.8 L1091.8 241.5 L1092.2 239.4 L1092.8 237.8 L1093.2 236.9 L1093.8 235.0 L1094.2 231.6 L1094.8 230.1 L1095.2 226.6 L1095.8 225.5 L1096.2 222.5 L1096.8 222.4 L1097.2 224.5 L1097.8 221.2 L1098.2 219.3 L1098.8 218.8 L1099.2 220.7 L1099.8 221.4 L1100.2 222.0 L1100.8 223.2 L1101.2 223.8 L1101.8 226.4 L1102.2 227.8 L1102.8 230.1 L1103.2 232.7 L1103.8 236.2 L1104.2 239.5 L1104.6 243.0 L1105.1 247.9 L1105.5 248.8 L1106.0 246.2 L1106.5 242.2 L1107.0 240.9 L1107.5 237.8 L1108.0 233.8 L1108.5 233.8 L1109.0 231.3 L1109.5 228.4 L1110.0 227.5 L1110.5 225.5 L1111.0 226.3 L1111.5 228.4 L1112.0 227.5 L1112.5 230.0 L1113.0 225.0 L1113.5 219.5 L1114.0 212.3 L1114.5 210.0 L1115.0 207.5 L1115.5 203.7 L1116.0 200.9 L1116.5 194.6 L1117.0 191.5 L1117.5 188.8 L1118.0 189.3 L1118.5 190.1 L1119.0 191.6 L1119.5 192.1 L1120.0 191.2 L1120.5 188.7 L1121.0 186.3 L1121.5 183.5 L1122.0 180.9 L1122.5 178.8 L1123.0 180.8 L1123.5 178.7 L1124.0 181.3 L1124.5 183.0 L1125.0 183.8 L1125.5 183.9 L1126.0 181.8 L1126.5 179.3 L1127.0 182.5 L1127.5 181.2 L1128.0 185.1 L1128.5 189.6 L1129.0 194.1 L1129.5 197.5 L1129.9 205.9 L1130.4 213.4 L1130.8 220.3 L1131.2 227.5 L1131.7 229.6 L1132.1 231.9 L1132.6 233.7 L1133.0 232.5 L1133.5 227.3 L1134.0 223.3 L1134.5 217.8 L1135.0 213.8 L1135.5 212.4 L1136.0 212.8 L1136.5 207.7 L1137.0 206.5 L1137.5 206.7 L1138.0 206.2 L1138.5 207.7 L1139.0 209.5 L1139.5 211.2 L1140.0 214.1 L1140.5 217.5 L1141.0 215.8 L1141.5 216.7 L1142.0 216.7 L1142.5 212.6 L1143.0 211.2 L1143.5 213.6 L1144.1 215.2 L1144.6 217.9 L1145.2 220.4 L1145.7 222.8 L1146.2 225.0 L1146.8 223.7 L1147.2 220.9 L1147.8 220.0 L1148.2 215.4 L1148.8 213.8 L1149.2 216.0 L1149.7 218.3 L1150.2 221.7 L1150.6 223.7 L1151.1 221.7 L1151.6 222.3 L1152.0 225.0 L1152.5 227.5 L1153.0 225.2 L1153.5 222.7 L1154.0 222.2 L1154.5 220.7 L1155.0 217.5 L1155.5 220.3 L1156.0 226.0 L1156.5 230.3 L1157.0 235.0 L1157.5 239.2 L1158.0 243.8 L1158.5 239.9 L1159.0 235.3 L1159.5 230.7 L1160.0 226.2 L1160.5 229.5 L1161.0 231.1 L1161.5 231.7 L1162.0 232.0 L1162.5 230.0 L1163.0 228.3 L1163.5 222.6 L1164.0 221.3 L1164.5 217.6 L1165.0 212.5 L1165.5 215.1 L1166.0 213.8 L1166.5 213.6 L1167.0 213.6 L1167.5 211.5 L1168.0 212.5 L1168.5 212.2 L1169.1 213.6 L1169.6 213.6 L1170.2 217.9 L1170.7 219.7 L1171.2 223.8 L1171.8 224.3 L1172.3 226.0 L1172.9 228.2 L1173.4 229.7 L1174.0 230.6 L1174.5 233.8 L1175.0 237.8 L1175.5 241.3 L1176.0 246.1 L1176.5 245.2 L1177.0 247.0 L1177.5 251.2 L1178.0 248.3 L1178.5 245.4 L1179.0 240.7 L1179.5 237.7 L1180.0 237.5 L1180.5 238.4 L1181.0 238.5 L1181.5 239.7 L1182.0 243.1 L1182.5 243.8 L1183.0 241.2 L1183.5 241.6 L1184.0 241.1 L1184.5 241.4 L1185.0 238.8 L1185.5 235.4 L1186.0 233.3 L1186.5 232.3 L1187.0 233.4 L1187.6 226.5 L1188.1 219.2 L1188.6 211.6 L1189.1 208.5 L1189.5 204.9 L1190.0 201.2 L1190.5 195.9 L1190.9 190.5 L1191.4 194.4 L1191.9 194.4 L1192.3 195.4 L1192.8 196.9 L1193.3 199.1 L1193.8 200.5 L1194.2 202.3 L1194.7 203.6 L1195.2 205.0 L1195.6 206.9 L1196.1 207.1 L1196.7 200.2 L1197.2 199.1 L1197.7 202.9 L1198.2 209.0 L1198.8 214.7 L1199.2 214.0 L1199.7 211.8 L1200.2 208.5 L1200.6 205.9 L1201.1 203.8 L1201.6 202.1 L1202.0 202.7 L1202.5 203.6 L1203.0 202.0 L1203.4 200.6 L1203.9 205.2 L1204.5 207.0 L1205.0 209.2 L1205.5 211.6 L1205.9 206.2 L1206.4 202.6 L1206.9 198.6 L1207.3 197.5 L1207.8 196.1 L1208.3 195.8 L1208.8 193.9 L1209.2 194.5 L1209.7 191.2 L1210.2 184.9 L1210.6 179.6 L1211.1 179.0 L1211.6 177.5 L1212.0 175.6 L1212.6 173.0 L1213.1 168.0 L1213.6 166.2 L1214.1 165.2 L1214.5 161.5 L1215.0 161.9 L1215.5 162.2 L1215.9 156.9 L1216.4 154.7 L1216.9 152.7 L1217.3 150.8 L1217.8 149.0 L1218.3 147.5 L1218.8 145.3 L1219.3 147.7 L1219.8 145.2 L1220.4 143.7 L1220.9 146.0 L1221.4 148.1 L1221.9 146.7 L1222.4 151.8 L1223.0 156.9 L1223.5 161.3 L1224.0 167.1 L1224.5 175.6 L1225.1 183.9 L1225.6 193.8 L1226.1 203.8 L1226.6 218.5 L1227.2 235.0 L1227.8 248.2 L1228.4 263.1 L1229.0 248.3 L1229.5 232.1 L1230.0 219.4 L1230.5 218.7 L1230.9 218.2 L1231.4 217.5 L1231.9 215.8 L1232.3 213.1 L1232.8 212.9 L1233.3 209.5 L1233.8 206.8 L1234.2 206.0 L1234.7 205.3 L1235.2 202.6 L1235.7 203.0 L1236.2 199.8 L1236.7 204.6 L1237.2 207.9 L1237.7 209.3 L1238.1 210.0 L1238.6 208.9 L1239.1 203.4 L1239.6 201.6 L1240.2 199.8 L1240.7 201.9 L1241.2 203.7 L1241.7 203.8 L1242.2 210.7 L1242.8 215.4 L1243.3 222.5 L1243.8 225.1 L1244.3 226.8 L1244.8 233.4 L1245.4 238.7 L1245.9 241.0 L1246.4 244.0 L1247.0 250.3 L1247.5 250.6 L1248.0 248.4 L1248.5 243.3 L1249.0 239.7 L1249.5 235.0 L1250.1 234.0 L1250.6 232.5 L1251.1 228.8 L1251.6 230.8 L1252.1 232.6 L1252.7 235.0 L1253.2 236.0 L1253.7 240.1 L1254.2 242.8 L1254.7 245.9 L1255.2 239.9 L1255.8 239.7"/>
<path stroke="#5b2870" d="M82.5 380.0 L83.0 382.4 L83.5 381.5 L84.0 381.8 L84.5 381.7 L85.0 382.5 L85.5 380.1 L86.0 378.8 L86.5 377.1 L87.0 375.0 L87.5 375.8 L88.0 376.9 L88.5 378.3 L89.0 379.1 L89.5 381.2 L90.0 380.4 L90.5 376.7 L91.0 377.8 L91.5 377.2 L92.0 376.1 L92.5 376.2 L93.0 376.3 L93.4 376.2 L93.9 375.0 L94.4 375.0 L94.8 373.1 L95.3 374.5 L95.8 372.9 L96.2 372.5 L96.7 373.9 L97.2 375.5 L97.7 376.6 L98.1 378.5 L98.6 375.8 L99.1 377.0 L99.5 378.0 L100.0 378.8 L100.5 379.7 L100.9 377.8 L101.4 376.9 L101.9 373.8 L102.3 373.3 L102.8 370.7 L103.3 368.1 L103.8 370.0 L104.2 371.7 L104.7 372.6 L105.2 373.7 L105.6 372.9 L106.1 372.7 L106.6 374.0 L107.0 372.5 L107.5 373.8 L108.0 371.3 L108.5 370.9 L109.0 369.1 L109.5 370.6 L110.0 371.2 L110.5 372.5 L111.0 372.1 L111.5 373.0 L112.0 374.7 L112.5 375.4 L113.0 377.5 L113.5 377.4 L114.0 376.1 L114.5 374.4 L115.0 374.1 L115.5 372.5 L116.0 374.4 L116.5 375.0 L117.0 377.7 L117.5 378.4 L118.0 378.1 L118.5 379.1 L119.0 379.3 L119.5 379.2 L120.0 380.0 L120.5 382.2 L120.9 381.0 L121.4 382.3 L121.9 383.4 L122.3 384.6 L122.8 386.8 L123.3 386.7 L123.8 388.8 L124.2 388.0 L124.8 387.7 L125.2 386.9 L125.8 386.1 L126.2 385.0 L126.8 385.6 L127.2 388.1 L127.8 389.4 L128.2 390.5 L128.8 391.2 L129.2 389.1 L129.7 388.1 L130.2 388.8 L130.6 385.7 L131.1 385.0 L131.6 384.5 L132.0 383.2 L132.5 382.5 L133.0 382.6 L133.4 383.6 L133.9 383.6 L134.4 384.0 L134.8 382.9 L135.3 382.4 L135.8 381.1 L136.2 380.0 L136.8 377.8 L137.2 376.9 L137.8 376.9 L138.2 375.1 L138.8 373.8 L139.2 374.5 L139.7 374.5 L140.2 375.6 L140.6 375.9 L141.1 374.6 L141.6 373.4 L142.0 374.3 L142.5 375.0 L143.0 374.9 L143.5 373.9 L144.0 372.8 L144.5 369.7 L145.0 370.0 L145.5 368.4 L145.9 369.1 L146.4 367.2 L146.9 366.0 L147.3 365.6 L147.8 364.6 L148.3 363.3 L148.8 363.8 L149.2 364.4 L149.7 364.7 L150.2 364.3 L150.6 363.2 L151.1 362.6 L151.6 361.9 L152.0 361.7 L152.5 362.5 L153.0 362.8 L153.4 362.4 L153.9 362.2 L154.4 364.1 L154.8 364.8 L155.3 365.5 L155.8 366.3 L156.2 367.5 L156.7 366.9 L157.2 367.5 L157.7 367.6 L158.1 363.7 L158.6 362.7 L159.1 365.3 L159.5 363.1 L160.0 362.5 L160.5 363.5 L161.0 363.2 L161.5 364.5 L162.0 362.9 L162.5 361.2 L163.0 360.8 L163.5 359.7 L164.0 358.3 L164.5 358.7 L165.0 358.8 L165.5 358.3 L166.0 357.4 L166.5 357.2 L167.0 356.7 L167.5 355.4 L168.0 355.5 L168.5 355.5 L169.0 355.1 L169.5 355.4 L170.0 353.8 L170.5 353.6 L170.9 353.0 L171.4 354.5 L171.9 355.0 L172.3 357.4 L172.8 359.2 L173.3 358.7 L173.8 357.5 L174.2 357.7 L174.7 357.0 L175.2 356.4 L175.6 354.8 L176.1 355.1 L176.6 355.0 L177.0 355.0 L177.5 355.0 L178.0 355.9 L178.5 355.3 L179.0 357.0 L179.5 358.2 L180.0 359.5 L180.5 362.5 L181.0 360.3 L181.6 359.8 L182.1 357.9 L182.7 356.5 L183.2 355.0 L183.8 353.8 L184.2 351.3 L184.7 351.5 L185.2 350.5 L185.6 348.4 L186.1 348.0 L186.6 347.3 L187.0 347.7 L187.5 347.5 L188.0 347.7 L188.5 345.6 L189.0 347.3 L189.5 348.7 L190.0 349.4 L190.5 349.7 L191.0 350.8 L191.5 349.6 L192.0 350.2 L192.5 350.0 L193.0 348.1 L193.4 347.8 L193.9 347.4 L194.4 348.6 L194.8 348.9 L195.3 346.3 L195.8 343.3 L196.2 342.5 L196.7 341.2 L197.2 339.1 L197.7 336.4 L198.1 335.1 L198.6 332.7 L199.1 330.9 L199.5 330.8 L200.0 330.0 L200.5 328.9 L200.9 327.3 L201.4 326.8 L201.9 328.4 L202.3 327.6 L202.8 329.2 L203.3 328.0 L203.8 327.5 L204.3 328.8 L204.8 328.5 L205.4 329.1 L205.9 328.1 L206.5 329.4 L207.0 331.2 L207.5 329.0 L208.0 327.7 L208.5 325.7 L209.0 321.8 L209.5 323.3 L210.0 322.5 L210.5 323.7 L211.0 324.5 L211.5 325.0 L212.0 328.0 L212.5 326.3 L213.0 326.2 L213.5 324.6 L214.0 323.2 L214.5 322.8 L215.0 320.8 L215.5 318.2 L216.0 315.8 L216.5 315.1 L217.0 315.0 L217.5 315.6 L218.1 317.0 L218.6 316.1 L219.1 316.9 L219.7 317.3 L220.2 316.8 L220.7 315.6 L221.2 316.2 L221.8 315.0 L222.2 314.3 L222.8 312.7 L223.2 314.3 L223.8 313.8 L224.3 315.8 L224.8 318.1 L225.4 320.4 L225.9 323.1 L226.5 323.7 L227.0 325.0 L227.5 324.3 L228.0 324.3 L228.5 321.9 L229.0 320.7 L229.5 318.8 L230.0 315.0 L230.5 314.7 L230.9 313.6 L231.4 314.7 L231.9 314.6 L232.3 314.6 L232.8 313.1 L233.3 313.3 L233.8 311.2 L234.2 307.7 L234.8 305.4 L235.2 300.2 L235.8 297.3 L236.2 295.0 L236.8 295.1 L237.2 296.7 L237.8 297.1 L238.2 296.9 L238.8 295.0 L239.3 297.8 L239.8 300.2 L240.4 306.9 L240.9 311.2 L241.5 315.0 L242.0 317.5 L242.5 319.8 L243.0 318.8 L243.5 320.9 L244.0 322.4 L244.5 322.9 L245.0 322.5 L245.5 324.2 L246.0 324.5 L246.5 326.9 L247.0 330.6 L247.5 333.3 L248.0 336.2 L248.5 332.2 L249.0 329.3 L249.5 324.9 L250.0 321.2 L250.5 318.8 L251.0 320.1 L251.6 318.7 L252.1 317.3 L252.7 313.7 L253.2 312.5 L253.8 310.0 L254.2 309.1 L254.7 308.0 L255.2 308.8 L255.6 309.0 L256.1 310.4 L256.6 310.8 L257.0 311.5 L257.5 313.8 L258.0 314.1 L258.5 314.4 L259.0 315.5 L259.5 315.2 L260.0 313.6 L260.5 312.2 L261.0 309.9 L261.5 309.7 L262.0 308.7 L262.5 308.8 L263.0 310.5 L263.5 310.4 L264.0 311.5 L264.5 313.8 L265.0 314.7 L265.5 316.6 L266.0 317.2 L266.5 317.0 L267.0 317.5 L267.5 316.2 L268.0 315.4 L268.5 313.3 L269.0 313.2 L269.5 310.2 L270.0 308.8 L270.5 309.5 L271.0 309.5 L271.6 310.3 L272.1 309.8 L272.6 308.9 L273.1 307.6 L273.6 307.3 L274.2 306.7 L274.7 307.3 L275.2 307.2 L275.7 306.8 L276.2 306.2 L276.8 305.4 L277.2 306.2 L277.8 308.0 L278.2 307.7 L278.8 308.7 L279.2 310.7 L279.8 311.2 L280.2 312.7 L280.8 313.5 L281.2 317.5 L281.7 316.9 L282.2 316.0 L282.7 313.0 L283.1 311.6 L283.6 309.2 L284.1 307.4 L284.5 304.5 L285.0 302.5 L285.5 301.2 L286.0 301.1 L286.5 302.6 L287.0 300.7 L287.5 298.7 L288.0 298.9 L288.5 299.3 L289.0 298.5 L289.5 298.7 L290.0 298.8 L290.5 299.0 L290.9 300.1 L291.4 299.0 L291.9 299.3 L292.3 299.2 L292.8 298.0 L293.3 298.1 L293.8 296.2 L294.2 295.4 L294.7 297.4 L295.2 297.0 L295.6 299.7 L296.1 301.7 L296.6 301.9 L297.0 301.7 L297.5 300.0 L298.0 302.3 L298.4 302.8 L298.9 307.0 L299.4 307.4 L299.8 309.9 L300.3 309.1 L300.8 311.1 L301.2 315.0 L301.8 313.0 L302.2 310.6 L302.8 308.6 L303.2 307.6 L303.8 307.1 L304.2 305.4 L304.8 301.6 L305.2 300.4 L305.8 300.1 L306.2 301.2 L306.8 300.6 L307.2 300.0 L307.8 298.6 L308.2 298.6 L308.8 299.8 L309.2 297.9 L309.8 297.1 L310.2 295.1 L310.8 293.5 L311.2 292.5 L311.8 294.0 L312.2 293.9 L312.8 294.5 L313.2 296.9 L313.8 298.4 L314.2 300.1 L314.8 301.4 L315.2 302.1 L315.8 303.5 L316.2 305.0 L316.7 303.5 L317.2 303.3 L317.7 301.8 L318.1 301.4 L318.6 300.0 L319.1 299.3 L319.5 297.1 L320.0 295.0 L320.5 293.2 L320.9 294.1 L321.4 294.2 L321.9 293.9 L322.3 294.1 L322.8 292.7 L323.3 292.3 L323.8 291.2 L324.3 290.5 L324.8 291.5 L325.3 291.9 L325.8 294.8 L326.4 295.3 L326.9 296.0 L327.4 298.4 L327.9 299.8 L328.4 299.6 L329.0 301.2 L329.5 301.7 L330.0 305.0 L330.5 302.8 L330.9 301.0 L331.4 296.9 L331.9 295.1 L332.3 296.3 L332.8 295.2 L333.3 293.1 L333.8 292.5 L334.2 292.1 L334.7 292.1 L335.2 294.9 L335.6 297.2 L336.1 299.0 L336.6 300.9 L337.0 299.8 L337.5 297.5 L338.0 297.4 L338.4 297.0 L338.9 296.1 L339.4 295.1 L339.8 295.0 L340.3 294.7 L340.8 294.1 L341.2 293.8 L341.7 292.9 L342.2 291.8 L342.7 292.8 L343.1 291.9 L343.6 293.5 L344.1 293.7 L344.5 293.1 L345.0 293.8 L345.5 292.3 L346.0 291.3 L346.5 290.1 L347.0 289.2 L347.5 289.2 L348.0 290.7 L348.5 290.5 L349.0 288.4 L349.5 286.7 L350.0 283.8 L350.5 284.1 L351.0 284.7 L351.6 284.6 L352.1 284.5 L352.6 284.7 L353.1 284.7 L353.6 285.0 L354.2 284.8 L354.7 283.2 L355.2 283.8 L355.7 284.8 L356.2 282.5 L356.7 282.5 L357.2 281.4 L357.7 282.3 L358.1 282.2 L358.6 284.1 L359.1 285.6 L359.5 285.3 L360.0 285.0 L360.5 284.9 L360.9 286.1 L361.4 285.5 L361.9 286.6 L362.3 285.5 L362.8 287.2 L363.3 288.3 L363.8 287.5 L364.2 287.2 L364.7 288.0 L365.2 289.0 L365.6 286.3 L366.1 287.2 L366.6 289.6 L367.0 289.7 L367.5 288.8 L368.0 290.6 L368.4 291.3 L368.9 291.9 L369.4 293.1 L369.8 292.1 L370.3 291.7 L370.8 290.9 L371.2 290.0 L371.7 290.9 L372.2 291.1 L372.7 294.2 L373.1 296.1 L373.6 298.4 L374.1 297.8 L374.5 298.9 L375.0 300.0 L375.5 298.6 L376.0 297.4 L376.5 294.9 L377.0 292.2 L377.5 291.7 L378.0 292.6 L378.5 293.4 L379.0 291.4 L379.5 288.9 L380.0 287.5 L380.5 286.0 L381.0 286.0 L381.5 283.7 L382.0 280.8 L382.5 280.0 L383.0 279.5 L383.4 278.8 L383.9 279.7 L384.4 279.8 L384.8 278.9 L385.3 278.9 L385.8 278.7 L386.2 278.8 L386.7 277.9 L387.2 278.5 L387.7 278.0 L388.1 277.3 L388.6 278.4 L389.1 277.3 L389.5 278.1 L390.0 278.8 L390.5 280.7 L391.0 283.2 L391.5 283.8 L392.0 286.4 L392.5 287.5 L393.0 288.8 L393.5 291.9 L394.1 293.9 L394.6 296.9 L395.2 300.2 L395.7 304.2 L396.2 307.5 L396.8 304.8 L397.2 300.0 L397.8 295.7 L398.2 292.6 L398.8 290.0 L399.2 289.2 L399.7 287.2 L400.2 284.7 L400.6 282.2 L401.1 282.2 L401.6 279.7 L402.0 278.1 L402.5 277.5 L403.0 276.7 L403.4 274.7 L403.9 275.7 L404.4 274.6 L404.8 273.7 L405.3 273.3 L405.8 271.7 L406.2 271.2 L406.7 270.8 L407.2 269.5 L407.7 268.1 L408.1 268.3 L408.6 268.1 L409.1 267.6 L409.5 266.8 L410.0 266.2 L410.5 267.4 L411.0 268.9 L411.5 268.8 L412.0 269.4 L412.5 267.5 L413.0 270.1 L413.5 273.3 L414.0 276.2 L414.5 280.9 L415.0 282.5 L415.5 280.0 L416.0 277.8 L416.5 277.3 L417.0 273.7 L417.5 271.2 L418.0 273.4 L418.5 275.0 L419.0 274.4 L419.5 274.5 L420.0 273.8 L420.5 271.3 L421.0 269.5 L421.5 268.5 L422.0 266.6 L422.5 265.1 L423.0 263.8 L423.5 278.8 L424.0 295.5 L424.5 312.5 L425.0 310.6 L425.5 307.8 L426.0 306.2 L426.5 304.7 L427.0 303.7 L427.5 300.0 L428.0 297.0 L428.5 296.7 L429.0 295.6 L429.5 292.9 L430.0 290.0 L430.5 289.5 L430.9 288.2 L431.4 287.5 L431.9 287.2 L432.3 285.6 L432.8 285.3 L433.3 285.4 L433.8 283.8 L434.2 282.0 L434.7 278.9 L435.2 277.7 L435.6 276.7 L436.1 274.8 L436.6 273.7 L437.0 273.0 L437.5 272.5 L438.0 270.5 L438.4 269.7 L438.9 267.6 L439.4 265.0 L439.8 265.7 L440.3 266.1 L440.8 267.1 L441.2 267.5 L441.8 265.7 L442.3 264.8 L442.9 263.0 L443.4 263.3 L444.0 259.5 L444.5 258.8 L445.0 259.4 L445.5 261.5 L446.0 264.1 L446.5 264.7 L447.0 267.5 L447.5 266.9 L448.0 263.3 L448.5 263.5 L449.0 260.4 L449.5 257.0 L450.0 256.2 L450.5 255.8 L450.9 256.4 L451.4 256.6 L451.9 255.8 L452.3 258.0 L452.8 260.0 L453.3 260.4 L453.8 262.5 L454.2 263.4 L454.8 264.6 L455.2 265.1 L455.8 264.5 L456.2 265.0 L456.8 266.1 L457.2 268.7 L457.8 271.1 L458.2 272.6 L458.8 276.2 L459.2 274.3 L459.8 273.9 L460.2 271.1 L460.8 268.2 L461.2 265.0 L461.8 263.8 L462.2 262.2 L462.8 260.9 L463.2 261.4 L463.8 260.9 L464.2 258.8 L464.8 260.4 L465.3 261.3 L465.9 262.1 L466.4 263.1 L467.0 264.3 L467.5 266.2 L468.0 268.9 L468.4 270.4 L468.9 270.9 L469.4 272.4 L469.8 273.7 L470.3 274.8 L470.8 274.9 L471.2 276.2 L471.8 273.0 L472.2 273.1 L472.8 272.7 L473.2 272.3 L473.8 270.0 L474.2 272.5 L474.8 276.2 L475.2 278.1 L475.8 279.2 L476.2 281.2 L476.8 276.3 L477.2 275.0 L477.8 273.1 L478.2 269.1 L478.8 267.5 L479.2 265.6 L479.8 263.1 L480.2 260.7 L480.8 259.2 L481.2 256.2 L481.8 259.5 L482.2 261.0 L482.8 261.9 L483.2 263.2 L483.8 263.8 L484.3 261.8 L484.8 258.7 L485.4 256.7 L485.9 254.7 L486.5 254.1 L487.0 253.8 L487.5 254.3 L488.0 255.3 L488.5 256.3 L489.0 256.8 L489.5 260.0 L489.9 266.0 L490.4 270.5 L490.8 273.6 L491.2 277.5 L491.7 280.5 L492.1 285.2 L492.6 286.7 L493.0 291.2 L493.5 288.3 L494.0 287.3 L494.5 284.6 L495.0 282.8 L495.5 278.8 L496.0 280.1 L496.6 280.9 L497.1 280.4 L497.7 278.7 L498.2 279.3 L498.8 280.0 L499.3 282.3 L499.8 286.8 L500.4 290.6 L500.9 293.3 L501.5 296.3 L502.0 297.5 L502.5 296.2 L503.0 295.3 L503.5 293.0 L504.0 289.5 L504.5 286.2 L505.0 283.8 L505.5 283.4 L505.9 284.4 L506.4 284.1 L506.9 285.8 L507.3 287.9 L507.8 287.9 L508.3 287.6 L508.8 285.0 L509.2 283.3 L509.8 282.0 L510.2 279.2 L510.8 278.7 L511.2 276.2 L511.7 275.2 L512.2 276.3 L512.7 277.1 L513.1 275.0 L513.6 274.5 L514.1 273.3 L514.5 273.3 L515.0 273.8 L515.5 274.2 L515.9 275.4 L516.4 277.5 L516.9 278.1 L517.3 277.7 L517.8 277.6 L518.3 279.6 L518.8 282.5 L519.2 280.6 L519.8 279.3 L520.2 276.7 L520.8 274.4 L521.2 273.8 L521.8 273.4 L522.2 273.8 L522.8 274.2 L523.2 275.8 L523.8 276.2 L524.2 278.3 L524.7 280.0 L525.2 281.5 L525.6 284.7 L526.1 289.2 L526.6 289.5 L527.0 292.8 L527.5 293.8 L528.0 291.6 L528.4 289.7 L528.9 287.7 L529.4 285.8 L529.8 283.6 L530.3 284.1 L530.8 281.0 L531.2 278.8 L531.8 280.0 L532.2 282.4 L532.8 283.1 L533.2 285.2 L533.8 287.5 L534.2 291.4 L534.7 293.9 L535.2 295.6 L535.6 297.5 L536.1 301.3 L536.6 302.9 L537.0 303.9 L537.5 305.0 L538.0 303.6 L538.5 303.6 L539.0 301.4 L539.5 299.8 L540.0 298.8 L540.5 300.4 L541.0 303.8 L541.5 306.0 L542.0 309.3 L542.5 312.5 L543.0 317.2 L543.5 322.2 L544.0 324.2 L544.5 325.8 L545.0 327.5 L545.5 324.5 L546.0 321.5 L546.5 318.0 L547.0 314.4 L547.5 312.5 L548.0 312.4 L548.5 311.5 L549.0 311.1 L549.5 308.3 L550.0 308.5 L550.5 309.7 L551.0 308.8 L551.5 307.2 L552.0 307.5 L552.5 308.0 L553.1 309.1 L553.6 310.8 L554.1 311.7 L554.7 313.5 L555.2 312.3 L555.7 310.7 L556.2 312.5 L556.7 313.5 L557.2 314.2 L557.7 314.2 L558.1 314.7 L558.6 315.6 L559.1 314.7 L559.5 315.4 L560.0 315.0 L560.5 317.3 L561.0 317.6 L561.5 317.9 L562.0 319.0 L562.5 320.0 L563.0 318.8 L563.4 315.9 L563.9 313.9 L564.4 312.6 L564.8 310.7 L565.3 308.6 L565.8 305.8 L566.2 303.8 L566.8 307.4 L567.2 308.2 L567.8 308.8 L568.2 309.6 L568.8 310.0 L569.2 312.0 L569.8 314.7 L570.2 315.9 L570.8 316.6 L571.2 318.8 L571.7 318.7 L572.2 314.9 L572.7 313.6 L573.1 315.1 L573.6 313.4 L574.1 311.4 L574.5 309.5 L575.0 310.0 L575.5 307.6 L576.1 306.1 L576.6 305.5 L577.2 303.8 L577.7 301.8 L578.2 298.8 L578.7 298.0 L579.2 299.8 L579.7 298.9 L580.1 300.7 L580.6 302.7 L581.1 304.9 L581.5 305.3 L582.0 305.0 L582.4 308.2 L582.9 312.7 L583.3 316.4 L583.8 320.0 L584.3 320.5 L584.8 322.2 L585.4 320.8 L585.9 320.1 L586.5 322.5 L587.0 323.8 L587.5 322.1 L588.0 317.5 L588.5 314.1 L589.0 311.2 L589.5 308.6 L590.0 307.5 L590.5 306.5 L590.9 306.3 L591.4 305.2 L591.9 304.6 L592.3 304.6 L592.8 304.7 L593.3 305.5 L593.8 303.8 L594.2 304.7 L594.7 305.3 L595.2 304.5 L595.6 306.1 L596.1 305.4 L596.6 305.1 L597.0 305.8 L597.5 307.5 L598.0 306.0 L598.4 306.6 L598.9 306.1 L599.4 304.2 L599.8 304.0 L600.3 303.0 L600.8 301.2 L601.2 300.0 L601.7 301.6 L602.2 302.3 L602.7 302.2 L603.1 303.4 L603.6 302.1 L604.1 303.1 L604.5 304.8 L605.0 303.8 L605.5 302.3 L605.9 301.2 L606.4 300.8 L606.9 299.7 L607.3 299.5 L607.8 298.2 L608.3 298.3 L608.8 298.8 L609.2 300.6 L609.8 301.3 L610.2 303.5 L610.8 303.1 L611.2 303.8 L611.8 301.9 L612.2 301.6 L612.8 299.4 L613.2 298.3 L613.8 298.3 L614.2 298.8 L614.8 301.0 L615.3 300.4 L615.9 301.0 L616.4 301.8 L617.0 302.9 L617.5 303.8 L618.0 303.8 L618.4 304.1 L618.9 302.7 L619.4 303.7 L619.8 304.3 L620.3 303.9 L620.8 306.0 L621.2 306.2 L621.8 306.0 L622.3 307.2 L622.9 308.2 L623.4 309.5 L624.0 309.9 L624.5 311.2 L625.0 313.6 L625.5 317.2 L626.0 319.7 L626.5 321.1 L627.0 322.1 L627.5 325.0 L628.0 323.5 L628.5 319.3 L629.0 317.4 L629.5 314.8 L630.0 312.5 L630.5 312.6 L630.9 312.4 L631.4 312.8 L631.9 312.9 L632.3 313.5 L632.8 314.6 L633.3 315.6 L633.8 318.8 L634.2 317.3 L634.7 316.4 L635.2 316.0 L635.6 316.3 L636.1 314.7 L636.6 312.7 L637.0 312.5 L637.5 312.5 L638.0 311.7 L638.4 311.0 L638.9 307.9 L639.4 307.6 L639.8 306.0 L640.3 306.9 L640.8 305.1 L641.2 301.2 L641.7 301.1 L642.2 301.3 L642.7 301.6 L643.1 301.8 L643.6 301.2 L644.1 299.3 L644.5 299.1 L645.0 298.8 L645.5 297.7 L645.9 297.4 L646.4 296.7 L646.9 294.2 L647.3 292.9 L647.8 291.7 L648.3 291.0 L648.8 292.5 L649.2 293.6 L649.7 295.4 L650.2 294.2 L650.6 296.7 L651.1 297.2 L651.6 298.9 L652.0 298.9 L652.5 300.0 L653.0 300.5 L653.4 300.0 L653.9 299.8 L654.4 298.5 L654.8 297.3 L655.3 297.2 L655.8 296.5 L656.2 296.2 L656.7 294.7 L657.2 293.5 L657.7 293.6 L658.1 294.4 L658.6 293.1 L659.1 291.7 L659.5 291.0 L660.0 291.2 L660.5 290.9 L660.9 291.5 L661.4 290.7 L661.9 289.0 L662.3 286.3 L662.8 286.7 L663.3 286.3 L663.8 285.0 L664.2 284.8 L664.7 283.0 L665.2 283.5 L665.6 284.1 L666.1 284.8 L666.6 283.7 L667.0 284.7 L667.5 285.0 L668.0 286.0 L668.4 283.4 L668.9 283.6 L669.4 284.3 L669.8 283.2 L670.3 283.5 L670.8 282.9 L671.2 283.8 L671.7 284.2 L672.2 285.0 L672.7 284.5 L673.1 287.5 L673.6 287.3 L674.1 286.9 L674.5 286.7 L675.0 287.5 L675.5 287.4 L675.9 287.7 L676.4 289.3 L676.9 290.2 L677.3 288.4 L677.8 288.4 L678.3 288.1 L678.8 288.8 L679.2 286.6 L679.7 285.8 L680.2 283.7 L680.6 283.6 L681.1 280.3 L681.6 279.3 L682.0 278.1 L682.5 275.0 L683.0 272.8 L683.5 271.4 L684.0 271.0 L684.5 272.1 L685.0 269.8 L685.5 268.8 L686.0 267.4 L686.6 268.4 L687.1 268.6 L687.7 268.7 L688.2 269.6 L688.8 270.0 L689.2 272.7 L689.8 273.4 L690.2 273.8 L690.8 274.9 L691.2 275.9 L691.8 278.4 L692.2 279.0 L692.8 279.5 L693.2 279.8 L693.8 280.0 L694.2 277.3 L694.8 276.8 L695.2 276.8 L695.8 276.4 L696.2 275.0 L696.8 274.5 L697.3 273.7 L697.9 272.4 L698.4 271.5 L699.0 269.9 L699.5 268.8 L700.0 271.5 L700.5 272.4 L701.0 274.1 L701.5 275.5 L702.0 278.1 L702.5 277.5 L703.0 276.9 L703.5 276.0 L704.0 274.9 L704.5 274.4 L705.0 271.9 L705.5 271.2 L706.0 271.1 L706.6 271.2 L707.1 273.4 L707.7 273.7 L708.2 275.6 L708.8 276.2 L709.3 274.4 L709.8 272.5 L710.4 269.4 L710.9 267.5 L711.5 266.2 L712.0 266.2 L712.5 268.8 L713.0 271.4 L713.5 272.1 L714.0 273.1 L714.5 275.2 L715.0 277.5 L715.5 276.3 L716.0 277.5 L716.5 276.8 L717.0 277.1 L717.5 276.6 L718.0 277.4 L718.5 278.4 L719.0 279.5 L719.5 278.6 L720.0 278.8 L720.5 279.8 L720.9 278.3 L721.4 277.4 L721.9 276.0 L722.3 274.0 L722.8 274.4 L723.3 274.7 L723.8 272.5 L724.2 272.1 L724.7 273.1 L725.2 272.6 L725.6 271.7 L726.1 271.8 L726.6 271.7 L727.0 269.4 L727.5 267.5 L728.0 268.5 L728.4 267.2 L728.9 266.4 L729.4 264.9 L729.8 266.3 L730.3 264.2 L730.8 263.7 L731.2 262.5 L731.7 262.8 L732.2 262.2 L732.7 262.0 L733.1 262.4 L733.6 263.4 L734.1 262.0 L734.5 262.8 L735.0 262.5 L735.5 264.0 L736.0 265.1 L736.5 266.6 L737.0 267.9 L737.5 270.0 L738.0 269.4 L738.5 267.0 L739.0 263.7 L739.5 261.5 L740.0 261.2 L740.5 261.1 L741.0 261.6 L741.5 265.3 L742.0 266.5 L742.5 268.0 L743.0 270.0 L743.5 269.6 L744.1 268.0 L744.6 267.0 L745.2 263.7 L745.7 262.9 L746.2 262.5 L746.8 260.6 L747.2 261.6 L747.8 263.8 L748.2 260.9 L748.8 260.7 L749.2 262.3 L749.8 263.1 L750.2 262.3 L750.8 261.6 L751.2 261.2 L751.7 261.6 L752.2 260.2 L752.7 258.1 L753.1 257.8 L753.6 256.5 L754.1 258.0 L754.5 256.4 L755.0 256.2 L755.5 257.6 L756.0 257.6 L756.5 258.6 L757.0 258.0 L757.5 260.0 L758.0 258.0 L758.5 255.7 L759.0 253.0 L759.5 253.7 L760.0 253.3 L760.5 251.2 L761.0 252.3 L761.5 254.2 L762.0 256.1 L762.5 257.3 L763.0 256.2 L763.5 257.2 L764.1 256.2 L764.6 256.8 L765.2 254.5 L765.7 254.4 L766.2 255.0 L766.8 259.2 L767.2 260.7 L767.8 263.4 L768.2 268.0 L768.8 270.0 L769.2 274.5 L769.6 278.1 L770.1 280.2 L770.5 285.0 L771.0 283.9 L771.6 282.4 L772.1 280.4 L772.7 279.3 L773.2 274.8 L773.8 272.5 L774.2 276.4 L774.8 278.9 L775.2 282.1 L775.8 283.9 L776.2 286.2 L776.8 282.4 L777.2 280.4 L777.8 278.1 L778.2 275.1 L778.8 272.5 L779.2 274.1 L779.8 275.9 L780.2 278.2 L780.8 280.9 L781.2 280.0 L781.8 282.0 L782.2 285.0 L782.8 285.4 L783.2 286.9 L783.8 291.2 L784.2 289.9 L784.7 290.4 L785.2 290.1 L785.6 287.9 L786.1 287.0 L786.6 284.4 L787.0 283.3 L787.5 283.8 L788.0 283.7 L788.4 283.2 L788.9 281.8 L789.4 281.8 L789.8 282.4 L790.3 282.4 L790.8 282.8 L791.2 282.5 L791.7 282.4 L792.2 280.7 L792.7 281.8 L793.1 279.9 L793.6 278.3 L794.1 276.9 L794.5 275.4 L795.0 276.2 L795.5 275.1 L795.9 273.9 L796.4 272.6 L796.9 271.7 L797.3 272.2 L797.8 272.9 L798.3 271.5 L798.8 272.5 L799.3 273.9 L799.8 275.0 L800.4 277.1 L800.9 278.0 L801.5 279.1 L802.0 280.0 L802.5 281.8 L803.0 283.5 L803.5 285.5 L804.0 287.6 L804.5 290.0 L805.0 292.5 L805.5 292.3 L806.0 290.8 L806.5 290.3 L807.0 289.2 L807.5 286.8 L808.0 285.0 L808.5 284.7 L809.0 284.2 L809.5 286.1 L810.0 287.4 L810.5 288.9 L811.0 291.4 L811.5 291.3 L812.0 292.5 L812.5 290.0 L813.0 289.1 L813.5 289.7 L814.0 288.0 L814.5 286.6 L815.0 286.2 L815.5 286.5 L815.9 285.8 L816.4 284.0 L816.9 283.1 L817.3 281.6 L817.8 279.5 L818.3 277.4 L818.8 276.2 L819.2 274.9 L819.7 274.5 L820.2 272.7 L820.6 272.4 L821.1 270.7 L821.6 270.9 L822.0 270.7 L822.5 268.8 L823.0 270.5 L823.5 270.1 L824.0 268.5 L824.5 266.3 L825.0 265.7 L825.5 265.0 L826.0 266.7 L826.6 268.1 L827.1 270.2 L827.7 271.5 L828.2 273.4 L828.8 275.0 L829.2 274.6 L829.8 270.9 L830.2 272.3 L830.8 270.9 L831.2 270.0 L831.7 269.8 L832.2 272.3 L832.7 273.4 L833.1 274.2 L833.6 274.5 L834.1 276.4 L834.5 278.2 L835.0 278.8 L835.5 279.8 L835.9 278.1 L836.4 278.8 L836.9 278.2 L837.3 276.0 L837.8 275.0 L838.3 274.9 L838.8 273.8 L839.3 272.4 L839.8 270.9 L840.4 270.0 L840.9 267.9 L841.5 268.5 L842.0 267.5 L842.5 269.8 L843.0 270.1 L843.5 271.0 L844.0 270.6 L844.5 271.2 L844.9 276.5 L845.4 280.5 L845.8 283.3 L846.2 286.2 L846.8 284.5 L847.2 282.0 L847.8 281.9 L848.2 279.8 L848.8 277.5 L849.2 279.4 L849.8 282.4 L850.2 281.8 L850.8 282.1 L851.2 282.5 L851.8 278.0 L852.2 275.5 L852.8 273.0 L853.2 271.6 L853.8 270.0 L854.2 270.6 L854.8 271.1 L855.2 270.5 L855.8 273.5 L856.2 275.0 L856.8 276.0 L857.2 276.3 L857.8 278.2 L858.2 280.6 L858.8 282.5 L859.2 280.7 L859.8 279.1 L860.2 276.9 L860.8 273.2 L861.2 270.0 L861.8 271.3 L862.2 275.7 L862.8 278.4 L863.2 281.9 L863.8 287.5 L864.2 285.7 L864.8 284.7 L865.2 282.9 L865.8 279.9 L866.2 280.0 L866.8 284.2 L867.2 288.3 L867.8 293.5 L868.2 297.5 L868.8 302.5 L869.2 300.7 L869.7 296.7 L870.2 294.0 L870.6 290.9 L871.1 288.9 L871.6 288.3 L872.0 284.0 L872.5 282.5 L873.0 281.2 L873.4 280.4 L873.9 279.4 L874.4 277.8 L874.8 275.0 L875.3 273.5 L875.8 271.1 L876.2 271.2 L876.8 272.9 L877.2 273.5 L877.8 274.2 L878.2 276.6 L878.8 276.2 L879.2 275.4 L879.7 274.6 L880.2 272.5 L880.6 272.6 L881.1 271.2 L881.6 271.3 L882.0 270.5 L882.5 268.8 L883.0 267.6 L883.4 267.8 L883.9 265.7 L884.4 263.8 L884.8 262.7 L885.3 262.4 L885.8 262.1 L886.2 260.0 L886.8 258.6 L887.2 258.3 L887.8 257.9 L888.2 258.1 L888.8 256.2 L889.3 257.4 L889.8 257.9 L890.4 261.3 L890.9 260.7 L891.5 261.4 L892.0 262.5 L892.5 260.0 L893.0 258.9 L893.5 257.5 L894.0 255.2 L894.5 254.1 L895.0 255.0 L895.5 255.6 L896.0 257.5 L896.5 259.3 L897.0 259.9 L897.5 260.0 L898.0 257.3 L898.4 254.8 L898.9 254.8 L899.4 254.6 L899.8 254.5 L900.3 253.3 L900.8 252.7 L901.2 251.2 L901.8 253.0 L902.2 254.0 L902.8 252.6 L903.2 252.8 L903.8 255.0 L904.3 253.3 L904.8 251.6 L905.3 250.0 L905.9 248.9 L906.4 248.5 L906.9 247.8 L907.5 247.4 L908.0 246.2 L908.5 248.9 L909.1 252.4 L909.6 253.3 L910.2 255.6 L910.7 257.9 L911.2 260.0 L911.8 258.2 L912.2 257.0 L912.8 255.0 L913.2 252.6 L913.8 250.0 L914.3 250.7 L914.8 250.0 L915.4 248.0 L915.9 247.3 L916.5 246.7 L917.0 247.5 L917.5 247.0 L918.1 244.2 L918.6 243.9 L919.1 242.6 L919.7 242.7 L920.2 240.5 L920.7 239.6 L921.2 238.8 L921.8 240.9 L922.2 240.0 L922.8 240.4 L923.2 241.0 L923.8 241.2 L924.3 238.9 L924.8 237.2 L925.4 235.9 L925.9 236.6 L926.5 235.3 L927.0 235.0 L927.5 236.0 L928.0 237.8 L928.5 239.3 L929.0 241.0 L929.5 240.9 L930.0 242.5 L930.5 243.5 L931.0 241.6 L931.5 238.4 L932.0 239.0 L932.5 237.7 L933.0 236.2 L933.5 236.1 L934.1 237.3 L934.6 238.5 L935.2 239.9 L935.7 240.3 L936.2 242.5 L936.8 243.7 L937.2 247.7 L937.8 250.3 L938.2 252.5 L938.8 249.5 L939.2 248.6 L939.8 247.7 L940.2 244.8 L940.8 245.3 L941.2 243.8 L941.7 242.6 L942.2 244.4 L942.7 243.8 L943.1 243.3 L943.6 242.3 L944.1 241.7 L944.5 241.9 L945.0 241.2 L945.5 241.1 L945.9 239.5 L946.4 238.9 L946.9 236.0 L947.3 235.0 L947.8 234.4 L948.3 234.6 L948.8 233.8 L949.2 234.4 L949.7 235.2 L950.2 234.7 L950.6 235.8 L951.1 236.6 L951.6 236.5 L952.0 235.6 L952.5 237.5 L953.0 237.1 L953.5 235.8 L954.0 235.4 L954.5 235.5 L955.0 233.8 L955.5 236.8 L956.0 239.8 L956.5 242.7 L957.0 245.0 L957.5 242.5 L958.0 241.4 L958.5 239.7 L959.0 239.5 L959.5 238.1 L960.0 236.2 L960.5 234.4 L960.9 233.8 L961.4 233.6 L961.9 233.0 L962.3 231.7 L962.8 228.1 L963.3 226.6 L963.8 226.2 L964.2 227.7 L964.7 226.2 L965.2 226.5 L965.6 224.9 L966.1 225.6 L966.6 225.1 L967.0 224.9 L967.5 225.0 L968.0 223.8 L968.4 222.5 L968.9 223.1 L969.4 221.1 L969.8 219.5 L970.3 219.9 L970.8 220.1 L971.2 218.8 L971.8 219.0 L972.3 220.3 L972.9 223.4 L973.4 226.2 L974.0 227.0 L974.5 227.5 L975.0 226.3 L975.5 223.2 L976.0 222.4 L976.5 220.8 L977.0 220.8 L977.5 218.8 L978.0 217.9 L978.4 216.0 L978.9 214.1 L979.4 214.8 L979.8 212.6 L980.3 211.2 L980.8 210.4 L981.2 211.2 L981.7 211.1 L982.2 210.2 L982.7 210.0 L983.1 211.5 L983.6 211.6 L984.1 211.9 L984.5 213.9 L985.0 212.5 L985.5 212.9 L985.9 211.2 L986.4 211.7 L986.9 211.4 L987.3 211.3 L987.8 210.8 L988.3 210.3 L988.8 206.2 L989.2 204.6 L989.8 206.6 L990.2 206.4 L990.8 205.9 L991.2 206.2 L991.8 208.0 L992.2 209.0 L992.8 210.9 L993.2 212.4 L993.8 212.5 L994.2 209.5 L994.6 207.4 L995.1 203.2 L995.5 200.0 L996.0 198.3 L996.6 197.1 L997.1 194.5 L997.7 193.8 L998.2 192.2 L998.8 192.5 L999.2 197.2 L999.6 204.5 L1000.1 210.8 L1000.5 215.0 L1001.0 223.8 L1001.5 230.4 L1002.0 237.4 L1002.5 242.5 L1003.0 251.4 L1003.5 259.6 L1004.0 267.2 L1004.5 275.0 L1005.0 288.5 L1005.5 300.0 L1006.0 301.0 L1006.6 301.1 L1007.1 301.5 L1007.7 301.9 L1008.2 302.8 L1008.8 303.8 L1009.4 292.4 L1010.0 280.0 L1010.6 274.1 L1011.2 267.5 L1011.8 266.4 L1012.2 265.1 L1012.8 263.1 L1013.2 259.4 L1013.8 257.5 L1014.2 253.4 L1014.8 253.1 L1015.2 251.3 L1015.8 250.8 L1016.2 248.8 L1016.7 251.9 L1017.1 255.9 L1017.6 259.0 L1018.0 260.0 L1018.5 254.5 L1019.0 250.0 L1019.5 246.4 L1020.0 241.2 L1020.5 242.6 L1021.0 245.4 L1021.5 248.6 L1022.0 250.0 L1022.5 253.3 L1023.0 257.5 L1023.5 254.6 L1024.0 253.2 L1024.5 251.4 L1025.0 250.1 L1025.5 248.8 L1026.0 246.6 L1026.6 246.1 L1027.1 247.3 L1027.7 246.6 L1028.2 243.9 L1028.8 242.5 L1029.2 242.5 L1029.8 240.3 L1030.2 238.4 L1030.8 235.0 L1031.2 231.2 L1031.8 233.5 L1032.2 236.2 L1032.8 237.8 L1033.2 240.6 L1033.8 242.5 L1034.2 237.9 L1034.8 235.3 L1035.2 233.7 L1035.8 233.9 L1036.2 230.0 L1036.8 230.5 L1037.3 231.0 L1037.9 231.5 L1038.4 231.8 L1039.0 233.6 L1039.5 235.0 L1040.0 233.4 L1040.5 231.6 L1041.0 230.7 L1041.5 228.2 L1042.0 227.5 L1042.5 227.5 L1043.0 225.6 L1043.5 224.0 L1044.0 221.9 L1044.5 220.8 L1045.0 220.0 L1045.5 221.3 L1045.9 224.8 L1046.4 226.2 L1046.9 228.7 L1047.3 231.5 L1047.8 232.9 L1048.3 235.0 L1048.8 236.2 L1049.2 235.9 L1049.8 234.3 L1050.2 231.2 L1050.8 230.6 L1051.2 228.8 L1051.8 230.3 L1052.2 229.7 L1052.8 230.0 L1053.2 228.3 L1053.8 227.6 L1054.2 226.9 L1054.8 227.4 L1055.2 228.5 L1055.8 228.1 L1056.2 227.5 L1056.7 226.1 L1057.2 225.0 L1057.7 224.5 L1058.1 225.3 L1058.6 226.9 L1059.1 226.3 L1059.5 225.2 L1060.0 223.8 L1060.5 223.4 L1060.9 223.8 L1061.4 223.3 L1061.9 223.9 L1062.3 222.7 L1062.8 221.0 L1063.3 220.0 L1063.8 217.5 L1064.3 219.3 L1064.8 220.6 L1065.4 220.6 L1065.9 222.6 L1066.5 225.3 L1067.0 228.8 L1067.5 228.1 L1068.0 228.8 L1068.5 227.4 L1069.0 228.2 L1069.5 226.9 L1070.0 226.2 L1070.5 225.6 L1071.0 228.3 L1071.5 228.6 L1072.0 230.7 L1072.5 231.4 L1073.0 232.5 L1073.5 235.6 L1074.0 236.6 L1074.5 239.4 L1075.0 241.3 L1075.5 242.5 L1076.0 246.6 L1076.5 249.4 L1077.0 253.8 L1077.4 249.7 L1077.9 245.2 L1078.3 240.4 L1078.8 236.2 L1079.4 226.9 L1080.0 219.4 L1080.5 218.2 L1080.9 219.1 L1081.4 218.2 L1081.9 217.5 L1082.3 216.2 L1082.8 218.7 L1083.3 216.3 L1083.8 217.1 L1084.2 218.2 L1084.7 219.4 L1085.2 221.8 L1085.7 223.8 L1086.2 222.4 L1086.8 223.0 L1087.3 222.3 L1087.8 222.5 L1088.3 221.1 L1088.8 221.2 L1089.2 221.0 L1089.7 219.8 L1090.2 217.8 L1090.6 219.0 L1091.1 219.8 L1091.6 220.1 L1092.0 221.8 L1092.5 224.1 L1093.0 222.5 L1093.4 223.3 L1093.9 221.4 L1094.4 220.2 L1094.8 217.8 L1095.3 216.8 L1095.8 217.4 L1096.2 214.6 L1096.7 212.5 L1097.2 210.0 L1097.7 208.9 L1098.2 208.9 L1098.8 206.2 L1099.3 205.8 L1099.8 206.8 L1100.3 205.3 L1100.8 205.2 L1101.4 205.8 L1101.9 203.6 L1102.4 202.5 L1102.9 203.0 L1103.4 203.0 L1103.9 207.0 L1104.4 209.2 L1104.8 212.3 L1105.3 214.7 L1105.8 211.0 L1106.3 209.3 L1106.8 208.8 L1107.3 205.3 L1107.8 205.4 L1108.3 205.7 L1108.8 206.9 L1109.2 205.8 L1109.7 203.8 L1110.2 205.6 L1110.6 206.1 L1111.1 206.1 L1111.6 207.1 L1112.0 208.4 L1112.5 212.2 L1113.0 215.5 L1113.6 216.7 L1114.1 217.8 L1114.6 216.0 L1115.1 215.1 L1115.7 213.3 L1116.2 209.7 L1116.7 208.4 L1117.2 206.0 L1117.7 206.0 L1118.1 205.0 L1118.6 204.5 L1119.1 202.2 L1119.5 202.2 L1120.0 199.4 L1120.5 200.2 L1120.9 198.2 L1121.4 197.5 L1121.9 197.9 L1122.4 198.3 L1122.9 197.9 L1123.4 195.5 L1123.8 196.4 L1124.3 195.4 L1124.8 193.3 L1125.3 194.4 L1125.8 196.1 L1126.3 194.4 L1126.8 194.4 L1127.3 194.2 L1127.8 193.5 L1128.3 192.9 L1128.8 192.0 L1129.2 191.2 L1129.7 191.8 L1130.2 192.7 L1130.6 193.1 L1131.1 194.6 L1131.6 195.9 L1132.0 196.9 L1132.5 199.6 L1133.0 198.9 L1133.4 200.0 L1133.9 202.2 L1134.4 200.7 L1134.9 197.4 L1135.5 195.9 L1135.9 198.3 L1136.4 199.9 L1136.9 199.3 L1137.3 200.6 L1137.8 201.4 L1138.3 198.9 L1138.8 197.9 L1139.2 193.0 L1139.7 192.7 L1140.2 192.8 L1140.6 191.8 L1141.1 190.1 L1141.6 187.9 L1142.0 187.8 L1142.5 186.6 L1143.0 183.0 L1143.4 179.4 L1143.9 178.7 L1144.4 178.4 L1144.8 175.6 L1145.3 175.3 L1145.8 172.7 L1146.2 170.9 L1146.7 167.8 L1147.2 167.0 L1147.7 166.2 L1148.1 165.5 L1148.6 165.2 L1149.1 163.8 L1149.5 164.7 L1150.1 165.9 L1150.6 166.1 L1151.1 165.7 L1151.7 166.8 L1152.2 167.8 L1152.7 166.2 L1153.2 163.5 L1153.7 163.6 L1154.2 162.3 L1154.7 163.7 L1155.2 164.7 L1155.6 164.8 L1156.1 164.3 L1156.6 163.1 L1157.2 167.3 L1157.8 170.2 L1158.3 168.4 L1158.8 166.7 L1159.2 164.0 L1159.7 160.8 L1160.2 160.7 L1160.6 161.3 L1161.1 160.0 L1161.6 159.5 L1162.0 160.0 L1162.5 157.1 L1163.0 156.1 L1163.4 154.1 L1163.9 152.9 L1164.4 152.2 L1164.8 149.9 L1165.3 148.2 L1165.8 148.0 L1166.2 146.7 L1166.7 145.2 L1167.2 145.9 L1167.7 146.7 L1168.1 148.5 L1168.6 148.9 L1169.1 149.1 L1169.5 148.5 L1170.0 148.2 L1170.5 148.4 L1170.9 148.4 L1171.4 148.3 L1171.9 150.8 L1172.3 149.7 L1172.8 149.9 L1173.3 150.6 L1173.8 150.6 L1174.2 153.2 L1174.7 154.2 L1175.2 156.8 L1175.6 160.1 L1176.1 161.6 L1176.6 163.4 L1177.0 165.8 L1177.5 167.3 L1178.0 168.9 L1178.4 168.6 L1179.0 173.1 L1179.5 178.8 L1180.0 183.4 L1180.5 184.1 L1180.9 179.9 L1181.4 177.8 L1181.9 176.0 L1182.3 174.8 L1182.8 173.9 L1183.3 171.4 L1183.8 170.8 L1184.2 168.6 L1184.7 167.8 L1185.2 167.4 L1185.7 168.1 L1186.2 167.4 L1186.8 166.9 L1187.3 163.5 L1187.8 160.8 L1188.3 160.0 L1188.8 159.2 L1189.2 158.0 L1189.7 155.7 L1190.2 153.8 L1190.6 152.8 L1191.1 153.4 L1191.6 151.9 L1192.0 147.9 L1192.5 149.1 L1193.0 148.5 L1193.4 146.5 L1193.9 146.8 L1194.4 146.3 L1194.8 144.4 L1195.3 144.4 L1195.8 146.0 L1196.2 146.8 L1196.7 149.1 L1197.2 149.1 L1197.7 150.8 L1198.1 152.0 L1198.6 154.3 L1199.1 159.2 L1199.6 154.9 L1200.1 153.5 L1200.6 150.4 L1201.1 147.5 L1201.6 149.3 L1202.0 146.6 L1202.5 145.5 L1203.0 142.5 L1203.4 141.2 L1204.0 139.4 L1204.5 137.0 L1205.0 135.8 L1205.5 137.3 L1206.0 137.4 L1206.6 138.1 L1207.0 137.1 L1207.5 135.0 L1208.0 130.9 L1208.4 128.8 L1208.9 130.7 L1209.5 132.6 L1210.0 132.0 L1210.5 132.7 L1211.0 135.2 L1211.5 136.1 L1212.0 138.9 L1212.5 139.2 L1213.0 138.6 L1213.4 138.8 L1213.9 142.9 L1214.4 143.6 L1214.8 150.1 L1215.3 157.8 L1215.8 164.4 L1216.2 169.4 L1216.9 162.2 L1217.5 156.9 L1218.0 154.1 L1218.5 151.7 L1219.1 150.6 L1219.5 151.2 L1220.0 150.8 L1220.5 153.3 L1220.9 153.3 L1221.4 152.2 L1221.9 153.4 L1222.3 154.7 L1222.8 155.8 L1223.3 156.6 L1223.8 160.0 L1224.3 166.2 L1224.8 171.3 L1225.3 175.6 L1225.8 172.6 L1226.4 169.7 L1226.9 166.2 L1227.4 170.1 L1227.9 176.3 L1228.4 181.9 L1229.0 186.3 L1229.5 192.9 L1230.0 199.8 L1230.6 186.7 L1231.2 172.5 L1231.8 166.1 L1232.3 159.2 L1232.8 158.4 L1233.3 159.4 L1233.8 159.8 L1234.2 158.2 L1234.7 158.4 L1235.2 156.8 L1235.7 155.4 L1236.2 153.0 L1236.8 153.5 L1237.3 154.6 L1237.8 155.3 L1238.3 152.2 L1238.9 148.3 L1239.4 145.9 L1239.8 146.4 L1240.3 145.9 L1240.8 148.2 L1241.2 147.9 L1241.7 149.1 L1242.2 151.7 L1242.7 151.8 L1243.1 154.3 L1243.6 155.1 L1244.1 157.7 L1244.5 160.2 L1245.0 160.7 L1245.5 161.5 L1245.9 161.4 L1246.4 162.3 L1246.9 165.9 L1247.4 170.6 L1248.0 172.5 L1248.5 175.7 L1249.0 180.5 L1249.5 185.0 L1250.1 181.0 L1250.6 175.6 L1251.2 182.4 L1251.9 190.5 L1252.4 185.3 L1252.9 182.4 L1253.4 180.3 L1254.0 178.0 L1254.5 173.8 L1255.0 172.5 L1255.4 175.6 L1255.8 178.8"/>
</g>
<g id="axis">
<line x1="81.10000000000001" y1="598.4" x2="1256.0" y2="598.4" stroke="#333" stroke-width="1.1"/>
<line x1="81.70" y1="598.4" x2="81.70" y2="607.2" stroke="#141414" stroke-width="1.25"/>
<line x1="194.48" y1="598.4" x2="194.48" y2="607.2" stroke="#141414" stroke-width="1.25"/>
<line x1="307.26" y1="598.4" x2="307.26" y2="607.2" stroke="#141414" stroke-width="1.25"/>
<line x1="420.04" y1="598.4" x2="420.04" y2="607.2" stroke="#141414" stroke-width="1.25"/>
<line x1="532.82" y1="598.4" x2="532.82" y2="607.2" stroke="#141414" stroke-width="1.25"/>
<line x1="645.60" y1="598.4" x2="645.60" y2="607.2" stroke="#141414" stroke-width="1.25"/>
<line x1="758.38" y1="598.4" x2="758.38" y2="607.2" stroke="#141414" stroke-width="1.25"/>
<line x1="871.16" y1="598.4" x2="871.16" y2="607.2" stroke="#141414" stroke-width="1.25"/>
<line x1="983.94" y1="598.4" x2="983.94" y2="607.2" stroke="#141414" stroke-width="1.25"/>
<line x1="1096.72" y1="598.4" x2="1096.72" y2="607.2" stroke="#141414" stroke-width="1.25"/>
<line x1="1209.50" y1="598.4" x2="1209.50" y2="607.2" stroke="#141414" stroke-width="1.25"/>
</g>
<g id="xlabels">
<text x="77.90" y="650.7" text-anchor="middle">2012</text><rect class="m" x="79.16" y="647.44" width="8.44" height="4.01"/><rect class="m" x="90.43" y="647.44" width="8.15" height="4.01"/>
<text x="190.68" y="650.7" text-anchor="middle">2013</text><rect class="m" x="191.94" y="647.44" width="8.44" height="4.01"/><rect class="m" x="203.21" y="647.44" width="8.15" height="4.01"/>
<text x="303.46" y="650.7" text-anchor="middle">2014</text><rect class="m" x="304.72" y="647.44" width="8.44" height="4.01"/><rect class="m" x="315.99" y="647.44" width="8.15" height="4.01"/>
<text x="416.24" y="650.7" text-anchor="middle">2015</text><rect class="m" x="417.50" y="647.44" width="8.44" height="4.01"/><rect class="m" x="428.77" y="647.44" width="8.15" height="4.01"/>
<text x="529.02" y="650.7" text-anchor="middle">2016</text><rect class="m" x="530.28" y="647.44" width="8.44" height="4.01"/><rect class="m" x="541.55" y="647.44" width="8.15" height="4.01"/>
<text x="641.80" y="650.7" text-anchor="middle">2017</text><rect class="m" x="643.06" y="647.44" width="8.44" height="4.01"/><rect class="m" x="654.33" y="647.44" width="8.15" height="4.01"/>
<text x="754.58" y="650.7" text-anchor="middle">2018</text><rect class="m" x="755.84" y="647.44" width="8.44" height="4.01"/><rect class="m" x="767.11" y="647.44" width="8.15" height="4.01"/>
<text x="867.36" y="650.7" text-anchor="middle">2019</text><rect class="m" x="868.62" y="647.44" width="8.44" height="4.01"/><rect class="m" x="879.89" y="647.44" width="8.15" height="4.01"/>
<text x="980.14" y="650.7" text-anchor="middle">2020</text>
<text x="1092.92" y="650.7" text-anchor="middle">2021</text><rect class="m" x="1115.10" y="647.44" width="8.44" height="4.01"/><rect class="m" x="1126.36" y="647.44" width="8.15" height="4.01"/>
<text x="1205.70" y="650.7" text-anchor="middle">2022</text>
</g>
<g id="legend">
<line x1="9.3" y1="714.1" x2="80.1" y2="714.1" stroke="#c8b9a9" stroke-width="7.2" stroke-linecap="round"/>
<text x="102.6" y="729.4" textLength="139.4" lengthAdjust="spacingAndGlyphs">Swiss Re</text>
<line x1="308.2" y1="714.1" x2="379.5" y2="714.1" stroke="#5b2870" stroke-width="7.2" stroke-linecap="round"/>
<text x="401.6" y="729.4" textLength="61.5" lengthAdjust="spacingAndGlyphs">SMI</text>
</g>
</svg>
</body></html>
